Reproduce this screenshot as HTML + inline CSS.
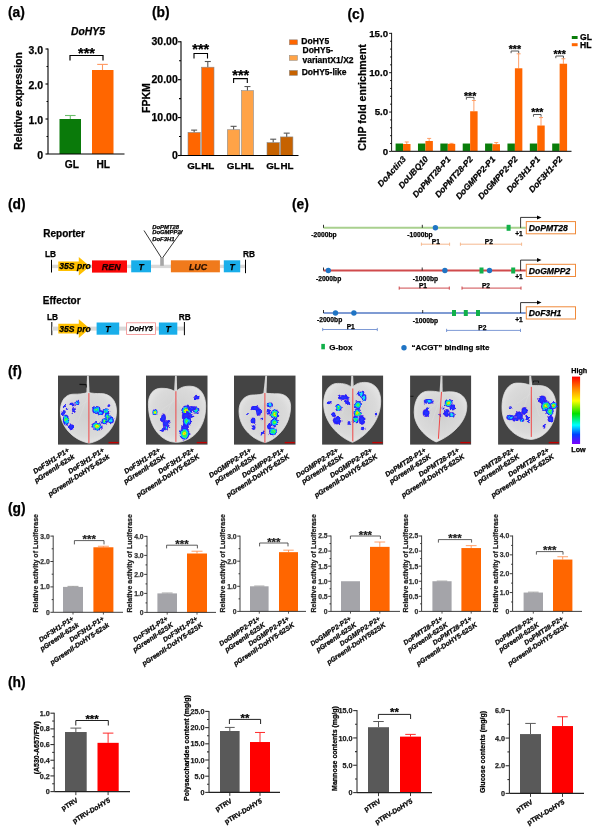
<!DOCTYPE html>
<html><head><meta charset="utf-8"><title>Figure</title>
<style>
html,body{margin:0;padding:0;background:#fff;}
body{width:600px;height:830px;overflow:hidden;}
svg{display:block;font-family:'Liberation Sans', sans-serif;filter:blur(0.3px);}
</style></head>
<body>
<svg width="600" height="830" viewBox="0 0 600 830">
<rect x="0" y="0" width="600" height="830" fill="#fff"/>
<text x="8" y="17" font-size="13.8" font-weight="bold" stroke="#000" stroke-width="0.25">(a)</text>
<text x="88" y="35.2" font-size="10.3" font-weight="bold" font-style="italic" text-anchor="middle" stroke="#000" stroke-width="0.25">DoHY5</text>
<rect x="59.5" y="119" width="21.5" height="35" fill="#0a7a0a"/>
<line x1="70.3" y1="119" x2="70.3" y2="115.5" stroke="#6cbf6c" stroke-width="1.1"/>
<line x1="65" y1="115.5" x2="75.6" y2="115.5" stroke="#6cbf6c" stroke-width="1.1"/>
<rect x="92" y="70" width="21.5" height="84" fill="#ff6600"/>
<line x1="102.5" y1="70" x2="102.5" y2="64.4" stroke="#ff9860" stroke-width="1.1"/>
<line x1="97.2" y1="64.4" x2="107.8" y2="64.4" stroke="#ff9860" stroke-width="1.1"/>
<line x1="48" y1="48.5" x2="48" y2="154" stroke="#000" stroke-width="1.1"/>
<line x1="45.5" y1="154" x2="48" y2="154" stroke="#000" stroke-width="1.1"/>
<text x="43" y="159" font-size="10.5" font-weight="bold" text-anchor="end" stroke="#000" stroke-width="0.25">0</text>
<line x1="45.5" y1="119" x2="48" y2="119" stroke="#000" stroke-width="1.1"/>
<text x="43" y="124" font-size="10.5" font-weight="bold" text-anchor="end" stroke="#000" stroke-width="0.25">1.0</text>
<line x1="45.5" y1="84" x2="48" y2="84" stroke="#000" stroke-width="1.1"/>
<text x="43" y="89" font-size="10.5" font-weight="bold" text-anchor="end" stroke="#000" stroke-width="0.25">2.0</text>
<line x1="45.5" y1="49" x2="48" y2="49" stroke="#000" stroke-width="1.1"/>
<text x="43" y="54" font-size="10.5" font-weight="bold" text-anchor="end" stroke="#000" stroke-width="0.25">3.0</text>
<line x1="46.5" y1="136.5" x2="48" y2="136.5" stroke="#000" stroke-width="1.1"/>
<line x1="46.5" y1="101.5" x2="48" y2="101.5" stroke="#000" stroke-width="1.1"/>
<line x1="46.5" y1="66.5" x2="48" y2="66.5" stroke="#000" stroke-width="1.1"/>
<line x1="48" y1="154" x2="124.5" y2="154" stroke="#000" stroke-width="1.1"/>
<polyline points="70,60.5 70,55.5 103,55.5 103,60.5" fill="none" stroke="#000" stroke-width="1.2"/>
<text x="86.5" y="58.4" font-size="14.5" font-weight="bold" text-anchor="middle" stroke="#000" stroke-width="0.25">***</text>
<text x="71.8" y="167.6" font-size="10.2" font-weight="bold" text-anchor="middle" stroke="#000" stroke-width="0.25">GL</text>
<text x="103.3" y="167.6" font-size="10.2" font-weight="bold" text-anchor="middle" stroke="#000" stroke-width="0.25">HL</text>
<text x="22.2" y="101" font-size="10.4" font-weight="bold" text-anchor="middle" stroke="#000" stroke-width="0.25" transform="rotate(-90 22.2 101)">Relative expression</text>
<text x="152" y="17" font-size="13.8" font-weight="bold" stroke="#000" stroke-width="0.25">(b)</text>
<line x1="194.15" y1="132.38" x2="194.15" y2="130.11" stroke="#555" stroke-width="1.1"/>
<line x1="191.15" y1="130.11" x2="197.15" y2="130.11" stroke="#555" stroke-width="1.1"/>
<rect x="188" y="132.38" width="12.3" height="23.12" fill="#ff6600" stroke="#8a8a8a" stroke-width="0.6"/>
<line x1="207.8" y1="67.19" x2="207.8" y2="61.51" stroke="#555" stroke-width="1.1"/>
<line x1="204.8" y1="61.51" x2="210.8" y2="61.51" stroke="#555" stroke-width="1.1"/>
<rect x="201.6" y="67.19" width="12.4" height="88.31" fill="#ff6600" stroke="#8a8a8a" stroke-width="0.6"/>
<line x1="233.6" y1="129.73" x2="233.6" y2="126.32" stroke="#555" stroke-width="1.1"/>
<line x1="230.6" y1="126.32" x2="236.6" y2="126.32" stroke="#555" stroke-width="1.1"/>
<rect x="227.4" y="129.73" width="12.4" height="25.77" fill="#ffa347" stroke="#8a8a8a" stroke-width="0.6"/>
<line x1="247.45" y1="90.69" x2="247.45" y2="86.52" stroke="#555" stroke-width="1.1"/>
<line x1="244.45" y1="86.52" x2="250.45" y2="86.52" stroke="#555" stroke-width="1.1"/>
<rect x="241.5" y="90.69" width="11.9" height="64.81" fill="#ffa347" stroke="#8a8a8a" stroke-width="0.6"/>
<line x1="273.2" y1="142.61" x2="273.2" y2="139.2" stroke="#555" stroke-width="1.1"/>
<line x1="270.2" y1="139.2" x2="276.2" y2="139.2" stroke="#555" stroke-width="1.1"/>
<rect x="267" y="142.61" width="12.4" height="12.89" fill="#c66200" stroke="#8a8a8a" stroke-width="0.6"/>
<line x1="286.7" y1="136.93" x2="286.7" y2="133.14" stroke="#555" stroke-width="1.1"/>
<line x1="283.7" y1="133.14" x2="289.7" y2="133.14" stroke="#555" stroke-width="1.1"/>
<rect x="280.5" y="136.93" width="12.4" height="18.57" fill="#c66200" stroke="#8a8a8a" stroke-width="0.6"/>
<line x1="181" y1="41.3" x2="181" y2="155.5" stroke="#000" stroke-width="1.1"/>
<line x1="178" y1="155.5" x2="181" y2="155.5" stroke="#000" stroke-width="1.1"/>
<text x="177.8" y="159" font-size="10.5" font-weight="bold" text-anchor="end" stroke="#000" stroke-width="0.25">0</text>
<line x1="178" y1="117.6" x2="181" y2="117.6" stroke="#000" stroke-width="1.1"/>
<text x="177.8" y="121.1" font-size="10.5" font-weight="bold" text-anchor="end" stroke="#000" stroke-width="0.25">10.00</text>
<line x1="178" y1="79.7" x2="181" y2="79.7" stroke="#000" stroke-width="1.1"/>
<text x="177.8" y="83.2" font-size="10.5" font-weight="bold" text-anchor="end" stroke="#000" stroke-width="0.25">20.00</text>
<line x1="178" y1="41.8" x2="181" y2="41.8" stroke="#000" stroke-width="1.1"/>
<text x="177.8" y="45.3" font-size="10.5" font-weight="bold" text-anchor="end" stroke="#000" stroke-width="0.25">30.00</text>
<line x1="179" y1="136.55" x2="181" y2="136.55" stroke="#000" stroke-width="1.1"/>
<line x1="179" y1="98.65" x2="181" y2="98.65" stroke="#000" stroke-width="1.1"/>
<line x1="179" y1="60.75" x2="181" y2="60.75" stroke="#000" stroke-width="1.1"/>
<line x1="181" y1="155.5" x2="298.5" y2="155.5" stroke="#000" stroke-width="1.1"/>
<polyline points="194,58.5 194,53.5 207.5,53.5 207.5,58.5" fill="none" stroke="#000" stroke-width="1.1"/>
<text x="200.8" y="53.6" font-size="14.5" font-weight="bold" text-anchor="middle" stroke="#000" stroke-width="0.25">***</text>
<polyline points="233.6,83 233.6,78.6 247.3,78.6 247.3,83" fill="none" stroke="#000" stroke-width="1.1"/>
<text x="240.8" y="80.3" font-size="14.5" font-weight="bold" text-anchor="middle" stroke="#000" stroke-width="0.25">***</text>
<text x="194" y="168.5" font-size="9.8" font-weight="bold" text-anchor="middle" stroke="#000" stroke-width="0.25">GL</text>
<text x="207.7" y="168.5" font-size="9.8" font-weight="bold" text-anchor="middle" stroke="#000" stroke-width="0.25">HL</text>
<text x="233.6" y="168.5" font-size="9.8" font-weight="bold" text-anchor="middle" stroke="#000" stroke-width="0.25">GL</text>
<text x="247.4" y="168.5" font-size="9.8" font-weight="bold" text-anchor="middle" stroke="#000" stroke-width="0.25">HL</text>
<text x="273" y="168.5" font-size="9.8" font-weight="bold" text-anchor="middle" stroke="#000" stroke-width="0.25">GL</text>
<text x="287" y="168.5" font-size="9.8" font-weight="bold" text-anchor="middle" stroke="#000" stroke-width="0.25">HL</text>
<text x="150.3" y="98" font-size="10.5" font-weight="bold" text-anchor="middle" stroke="#000" stroke-width="0.25" transform="rotate(-90 150.3 98)">FPKM</text>
<rect x="289.3" y="39.8" width="8.2" height="5" fill="#ff6600" stroke="#8a8a8a" stroke-width="0.5"/>
<rect x="289.3" y="55.4" width="8.2" height="5" fill="#ffa347" stroke="#8a8a8a" stroke-width="0.5"/>
<rect x="289.3" y="70.4" width="8.2" height="5" fill="#c66200" stroke="#8a8a8a" stroke-width="0.5"/>
<text x="301.3" y="43.5" font-size="8.5" font-weight="bold" stroke="#000" stroke-width="0.25">DoHY5</text>
<text x="302.5" y="52.6" font-size="8.5" font-weight="bold" stroke="#000" stroke-width="0.25">DoHY5-</text>
<text x="302.5" y="62.6" font-size="8.5" font-weight="bold" stroke="#000" stroke-width="0.25">variantX1/X2</text>
<text x="301.7" y="74.6" font-size="8.5" font-weight="bold" stroke="#000" stroke-width="0.25">DoHY5-like</text>
<text x="347.5" y="18.5" font-size="13.8" font-weight="bold" stroke="#000" stroke-width="0.25">(c)</text>
<rect x="395.6" y="143.53" width="7.45" height="7.87" fill="#0a7d0a"/>
<line x1="406.78" y1="144" x2="406.78" y2="141.96" stroke="#ff8844" stroke-width="0.8"/>
<line x1="404.78" y1="141.96" x2="408.78" y2="141.96" stroke="#ff8844" stroke-width="0.8"/>
<rect x="403.05" y="144" width="7.45" height="7.4" fill="#ff6600"/>
<text x="406.35" y="159.4" font-size="8.5" font-weight="bold" font-style="italic" text-anchor="end" stroke="#000" stroke-width="0.25" transform="rotate(-48 406.35 159.4)">DoActin3</text>
<rect x="417.97" y="143.53" width="7.45" height="7.87" fill="#0a7d0a"/>
<line x1="429.15" y1="141.01" x2="429.15" y2="138.41" stroke="#ff8844" stroke-width="0.8"/>
<line x1="427.15" y1="138.41" x2="431.15" y2="138.41" stroke="#ff8844" stroke-width="0.8"/>
<rect x="425.42" y="141.01" width="7.45" height="10.39" fill="#ff6600"/>
<text x="428.72" y="159.4" font-size="8.5" font-weight="bold" font-style="italic" text-anchor="end" stroke="#000" stroke-width="0.25" transform="rotate(-48 428.72 159.4)">DoUBQ10</text>
<rect x="440.34" y="143.53" width="7.45" height="7.87" fill="#0a7d0a"/>
<line x1="451.52" y1="143.84" x2="451.52" y2="143.37" stroke="#ff8844" stroke-width="0.8"/>
<line x1="449.52" y1="143.37" x2="453.52" y2="143.37" stroke="#ff8844" stroke-width="0.8"/>
<rect x="447.79" y="143.84" width="7.45" height="7.56" fill="#ff6600"/>
<text x="451.09" y="159.4" font-size="8.5" font-weight="bold" font-style="italic" text-anchor="end" stroke="#000" stroke-width="0.25" transform="rotate(-48 451.09 159.4)">DoPMT28-P1</text>
<rect x="462.71" y="143.53" width="7.45" height="7.87" fill="#0a7d0a"/>
<line x1="473.89" y1="111.26" x2="473.89" y2="100.48" stroke="#ff8844" stroke-width="0.8"/>
<line x1="471.89" y1="100.48" x2="475.89" y2="100.48" stroke="#ff8844" stroke-width="0.8"/>
<rect x="470.16" y="111.26" width="7.45" height="40.14" fill="#ff6600"/>
<text x="473.46" y="159.4" font-size="8.5" font-weight="bold" font-style="italic" text-anchor="end" stroke="#000" stroke-width="0.25" transform="rotate(-48 473.46 159.4)">DoPMT28-P2</text>
<rect x="485.08" y="143.53" width="7.45" height="7.87" fill="#0a7d0a"/>
<line x1="496.26" y1="144.16" x2="496.26" y2="142.59" stroke="#ff8844" stroke-width="0.8"/>
<line x1="494.26" y1="142.59" x2="498.26" y2="142.59" stroke="#ff8844" stroke-width="0.8"/>
<rect x="492.53" y="144.16" width="7.45" height="7.24" fill="#ff6600"/>
<text x="495.83" y="159.4" font-size="8.5" font-weight="bold" font-style="italic" text-anchor="end" stroke="#000" stroke-width="0.25" transform="rotate(-48 495.83 159.4)">DoGMPP2-P1</text>
<rect x="507.45" y="143.53" width="7.45" height="7.87" fill="#0a7d0a"/>
<line x1="518.63" y1="68.29" x2="518.63" y2="53.81" stroke="#ff8844" stroke-width="0.8"/>
<line x1="516.63" y1="53.81" x2="520.63" y2="53.81" stroke="#ff8844" stroke-width="0.8"/>
<rect x="514.9" y="68.29" width="7.45" height="83.11" fill="#ff6600"/>
<text x="518.2" y="159.4" font-size="8.5" font-weight="bold" font-style="italic" text-anchor="end" stroke="#000" stroke-width="0.25" transform="rotate(-48 518.2 159.4)">DoGMPP2-P2</text>
<rect x="529.82" y="143.53" width="7.45" height="7.87" fill="#0a7d0a"/>
<line x1="541" y1="125.51" x2="541" y2="117.56" stroke="#ff8844" stroke-width="0.8"/>
<line x1="539" y1="117.56" x2="543" y2="117.56" stroke="#ff8844" stroke-width="0.8"/>
<rect x="537.27" y="125.51" width="7.45" height="25.89" fill="#ff6600"/>
<text x="540.57" y="159.4" font-size="8.5" font-weight="bold" font-style="italic" text-anchor="end" stroke="#000" stroke-width="0.25" transform="rotate(-48 540.57 159.4)">DoF3H1-P1</text>
<rect x="552.19" y="143.53" width="7.45" height="7.87" fill="#0a7d0a"/>
<line x1="563.37" y1="63.73" x2="563.37" y2="58.77" stroke="#ff8844" stroke-width="0.8"/>
<line x1="561.37" y1="58.77" x2="565.37" y2="58.77" stroke="#ff8844" stroke-width="0.8"/>
<rect x="559.64" y="63.73" width="7.45" height="87.67" fill="#ff6600"/>
<text x="562.94" y="159.4" font-size="8.5" font-weight="bold" font-style="italic" text-anchor="end" stroke="#000" stroke-width="0.25" transform="rotate(-48 562.94 159.4)">DoF3H1-P2</text>
<line x1="391.6" y1="32.85" x2="391.6" y2="151.4" stroke="#000" stroke-width="0.9"/>
<line x1="389.1" y1="151.4" x2="391.6" y2="151.4" stroke="#000" stroke-width="0.9"/>
<text x="388.1" y="154.6" font-size="9.7" font-weight="bold" text-anchor="end" stroke="#000" stroke-width="0.25">0</text>
<line x1="389.1" y1="112.05" x2="391.6" y2="112.05" stroke="#000" stroke-width="0.9"/>
<text x="388.1" y="115.25" font-size="9.7" font-weight="bold" text-anchor="end" stroke="#000" stroke-width="0.25">5.0</text>
<line x1="389.1" y1="72.7" x2="391.6" y2="72.7" stroke="#000" stroke-width="0.9"/>
<text x="388.1" y="75.9" font-size="9.7" font-weight="bold" text-anchor="end" stroke="#000" stroke-width="0.25">10.0</text>
<line x1="389.1" y1="33.35" x2="391.6" y2="33.35" stroke="#000" stroke-width="0.9"/>
<text x="388.1" y="36.55" font-size="9.7" font-weight="bold" text-anchor="end" stroke="#000" stroke-width="0.25">15.0</text>
<line x1="390.1" y1="143.53" x2="391.6" y2="143.53" stroke="#000" stroke-width="0.9"/>
<line x1="390.1" y1="135.66" x2="391.6" y2="135.66" stroke="#000" stroke-width="0.9"/>
<line x1="390.1" y1="127.79" x2="391.6" y2="127.79" stroke="#000" stroke-width="0.9"/>
<line x1="390.1" y1="119.92" x2="391.6" y2="119.92" stroke="#000" stroke-width="0.9"/>
<line x1="390.1" y1="104.18" x2="391.6" y2="104.18" stroke="#000" stroke-width="0.9"/>
<line x1="390.1" y1="96.31" x2="391.6" y2="96.31" stroke="#000" stroke-width="0.9"/>
<line x1="390.1" y1="88.44" x2="391.6" y2="88.44" stroke="#000" stroke-width="0.9"/>
<line x1="390.1" y1="80.57" x2="391.6" y2="80.57" stroke="#000" stroke-width="0.9"/>
<line x1="390.1" y1="64.83" x2="391.6" y2="64.83" stroke="#000" stroke-width="0.9"/>
<line x1="390.1" y1="56.96" x2="391.6" y2="56.96" stroke="#000" stroke-width="0.9"/>
<line x1="390.1" y1="49.09" x2="391.6" y2="49.09" stroke="#000" stroke-width="0.9"/>
<line x1="390.1" y1="41.22" x2="391.6" y2="41.22" stroke="#000" stroke-width="0.9"/>
<line x1="391.6" y1="151.4" x2="571.5" y2="151.4" stroke="#333" stroke-width="1.2"/>
<polyline points="466.36,99.6 466.36,97.4 473.96,97.4 473.96,99.6" fill="none" stroke="#444" stroke-width="0.9"/>
<text x="470.16" y="99.7" font-size="10.5" font-weight="bold" text-anchor="middle" stroke="#000" stroke-width="0.25">***</text>
<polyline points="511.1,53.2 511.1,51 518.7,51 518.7,53.2" fill="none" stroke="#444" stroke-width="0.9"/>
<text x="514.9" y="52.7" font-size="10.5" font-weight="bold" text-anchor="middle" stroke="#000" stroke-width="0.25">***</text>
<polyline points="533.47,116.7 533.47,114.5 541.07,114.5 541.07,116.7" fill="none" stroke="#444" stroke-width="0.9"/>
<text x="537.27" y="116.2" font-size="10.5" font-weight="bold" text-anchor="middle" stroke="#000" stroke-width="0.25">***</text>
<polyline points="555.84,58.2 555.84,56 563.44,56 563.44,58.2" fill="none" stroke="#444" stroke-width="0.9"/>
<text x="559.64" y="57.7" font-size="10.5" font-weight="bold" text-anchor="middle" stroke="#000" stroke-width="0.25">***</text>
<text x="366.2" y="97.5" font-size="10.6" font-weight="bold" text-anchor="middle" stroke="#000" stroke-width="0.25" transform="rotate(-90 366.2 97.5)">ChIP fold enrichment</text>
<rect x="571.8" y="36" width="5.8" height="3" fill="#0a7d0a"/>
<rect x="571.8" y="43.2" width="5.8" height="3" fill="#ff6600"/>
<text x="580" y="40.2" font-size="8.6" font-weight="bold" stroke="#000" stroke-width="0.25">GL</text>
<text x="580" y="48.3" font-size="8.6" font-weight="bold" stroke="#000" stroke-width="0.25">HL</text>
<text x="8" y="209.3" font-size="13.8" font-weight="bold" stroke="#000" stroke-width="0.25">(d)</text>
<text x="43.3" y="236.7" font-size="10" font-weight="bold" stroke="#000" stroke-width="0.25">Reporter</text>
<text x="45" y="257.3" font-size="8.3" font-weight="bold" stroke="#000" stroke-width="0.25">LB</text>
<line x1="51.5" y1="259.8" x2="51.5" y2="272.5" stroke="#000" stroke-width="1"/>
<rect x="52" y="264.7" width="193" height="3.4" fill="#d9d9d9"/>
<polygon points="58.3,261.5 78.8,261.5 78.8,257 89.8,266.3 78.8,275.6 78.8,271.1 58.3,271.1" fill="#ffc000"/>
<text x="59.3" y="269.3" font-size="8.6" font-weight="bold" font-style="italic" stroke="#000" stroke-width="0.25">35S pro</text>
<rect x="92" y="260.4" width="35" height="12.2" fill="#fb0808"/>
<text x="111.2" y="270.2" font-size="9" font-weight="bold" font-style="italic" text-anchor="middle" fill="#1a0000" stroke="#1a0000" stroke-width="0.25">REN</text>
<rect x="131.2" y="260.3" width="19.8" height="12" fill="#19aeea"/>
<text x="141.1" y="269.5" font-size="8.6" font-weight="bold" font-style="italic" text-anchor="middle" stroke="#000" stroke-width="0.25">T</text>
<rect x="160.2" y="257.3" width="3.6" height="8.5" fill="#a6a6a6"/>
<line x1="144" y1="230.5" x2="161.2" y2="257.5" stroke="#111" stroke-width="0.85"/>
<line x1="182" y1="230.5" x2="162.8" y2="257.5" stroke="#111" stroke-width="0.85"/>
<text x="152.2" y="228.9" font-size="5.9" font-weight="bold" font-style="italic" stroke="#000" stroke-width="0.25">DoPMT28</text>
<text x="152.2" y="234.3" font-size="5.9" font-weight="bold" font-style="italic" stroke="#000" stroke-width="0.25">DoGMPP2/</text>
<text x="152.2" y="241.4" font-size="5.9" font-weight="bold" font-style="italic" stroke="#000" stroke-width="0.25">DoF3H1</text>
<rect x="170.9" y="260.3" width="49" height="12" fill="#f07a1c"/>
<text x="198" y="269.8" font-size="8.8" font-weight="bold" font-style="italic" text-anchor="middle" fill="#2a1000" stroke="#2a1000" stroke-width="0.25">LUC</text>
<rect x="223.8" y="260.3" width="16.4" height="12" fill="#19aeea"/>
<text x="232" y="269.5" font-size="8.6" font-weight="bold" font-style="italic" text-anchor="middle" stroke="#000" stroke-width="0.25">T</text>
<line x1="245.5" y1="259.7" x2="245.5" y2="273.2" stroke="#000" stroke-width="1"/>
<text x="243" y="256.8" font-size="8.3" font-weight="bold" stroke="#000" stroke-width="0.25">RB</text>
<text x="42.8" y="304" font-size="10" font-weight="bold" stroke="#000" stroke-width="0.25">Effector</text>
<text x="47" y="319.8" font-size="8.3" font-weight="bold" stroke="#000" stroke-width="0.25">LB</text>
<line x1="51.8" y1="322" x2="51.8" y2="335.2" stroke="#000" stroke-width="1"/>
<rect x="52" y="326.6" width="132" height="4" fill="#d9d9d9"/>
<polygon points="58.3,323.8 78.8,323.8 78.8,319.3 89.8,328.6 78.8,337.9 78.8,333.4 58.3,333.4" fill="#ffc000"/>
<text x="59.3" y="331.6" font-size="8.6" font-weight="bold" font-style="italic" stroke="#000" stroke-width="0.25">35S pro</text>
<rect x="96.6" y="322.5" width="22.6" height="12.2" fill="#19aeea"/>
<text x="107.9" y="331.8" font-size="8.6" font-weight="bold" font-style="italic" text-anchor="middle" stroke="#000" stroke-width="0.25">T</text>
<rect x="126.6" y="322.8" width="28.8" height="11.6" fill="#fff" stroke="#f08a8a" stroke-width="0.8"/>
<text x="141" y="331.4" font-size="7.2" font-weight="bold" font-style="italic" text-anchor="middle" stroke="#000" stroke-width="0.25">DoHY5</text>
<rect x="158.9" y="322.5" width="18.4" height="12.2" fill="#19aeea"/>
<text x="168.1" y="331.8" font-size="8.6" font-weight="bold" font-style="italic" text-anchor="middle" stroke="#000" stroke-width="0.25">T</text>
<line x1="184.4" y1="322" x2="184.4" y2="335.2" stroke="#000" stroke-width="1"/>
<text x="178.7" y="319.8" font-size="8.3" font-weight="bold" stroke="#000" stroke-width="0.25">RB</text>
<text x="292" y="208.8" font-size="13.8" font-weight="bold" stroke="#000" stroke-width="0.25">(e)</text>
<line x1="323.5" y1="227.8" x2="525.8" y2="227.8" stroke="#a9d08e" stroke-width="2"/>
<line x1="323.5" y1="224.8" x2="323.5" y2="227.8" stroke="#000" stroke-width="0.8"/>
<line x1="422.3" y1="224.8" x2="422.3" y2="227.8" stroke="#000" stroke-width="0.8"/>
<text x="324" y="236.5" font-size="6.7" font-weight="bold" text-anchor="middle" stroke="#000" stroke-width="0.25">-2000bp</text>
<text x="420" y="236.5" font-size="6.7" font-weight="bold" text-anchor="middle" stroke="#000" stroke-width="0.25">-1000bp</text>
<circle cx="435.4" cy="227.8" r="2.7" fill="#1f74c4"/>
<rect x="506.6" y="224.8" width="4" height="6" fill="#11b04a"/>
<line x1="520.6" y1="227.8" x2="520.6" y2="217.4" stroke="#000" stroke-width="0.8"/>
<line x1="520.6" y1="217.4" x2="538" y2="217.4" stroke="#000" stroke-width="0.8"/>
<polygon points="537,215.4 541.5,217.4 537,219.4" fill="#000"/>
<text x="519" y="236.4" font-size="6.6" font-weight="bold" text-anchor="middle" stroke="#000" stroke-width="0.25">+1</text>
<rect x="526.3" y="221.6" width="49.2" height="12.2" fill="#fff" stroke="#f08a3a" stroke-width="1"/>
<text x="528.7" y="231" font-size="8.6" font-weight="bold" font-style="italic" stroke="#000" stroke-width="0.25">DoPMT28</text>
<line x1="421.4" y1="244.2" x2="449.6" y2="244.2" stroke="#f4b183" stroke-width="0.9"/>
<line x1="421.4" y1="242.6" x2="421.4" y2="245.8" stroke="#f4b183" stroke-width="0.9"/>
<line x1="449.6" y1="242.6" x2="449.6" y2="245.8" stroke="#f4b183" stroke-width="0.9"/>
<text x="435.8" y="243.5" font-size="6.6" font-weight="bold" text-anchor="middle" stroke="#000" stroke-width="0.25">P1</text>
<line x1="460.4" y1="244.2" x2="521.6" y2="244.2" stroke="#f4b183" stroke-width="0.9"/>
<line x1="460.4" y1="242.6" x2="460.4" y2="245.8" stroke="#f4b183" stroke-width="0.9"/>
<line x1="521.6" y1="242.6" x2="521.6" y2="245.8" stroke="#f4b183" stroke-width="0.9"/>
<text x="488.8" y="243.5" font-size="6.6" font-weight="bold" text-anchor="middle" stroke="#000" stroke-width="0.25">P2</text>
<line x1="323.5" y1="270.5" x2="525.8" y2="270.5" stroke="#d04a4c" stroke-width="2"/>
<line x1="323.5" y1="267.5" x2="323.5" y2="270.5" stroke="#000" stroke-width="0.8"/>
<line x1="422.2" y1="267.5" x2="422.2" y2="270.5" stroke="#000" stroke-width="0.8"/>
<text x="328.6" y="280.6" font-size="6.7" font-weight="bold" text-anchor="middle" stroke="#000" stroke-width="0.25">-2000bp</text>
<text x="425.5" y="280.6" font-size="6.7" font-weight="bold" text-anchor="middle" stroke="#000" stroke-width="0.25">-1000bp</text>
<circle cx="328.3" cy="270.5" r="2.7" fill="#1f74c4"/>
<circle cx="444.9" cy="270.5" r="2.7" fill="#1f74c4"/>
<circle cx="489.5" cy="270.5" r="2.7" fill="#1f74c4"/>
<rect x="479.5" y="267.5" width="4" height="6" fill="#11b04a"/>
<rect x="511.2" y="267.5" width="4" height="6" fill="#11b04a"/>
<line x1="520.6" y1="270.5" x2="520.6" y2="260.1" stroke="#000" stroke-width="0.8"/>
<line x1="520.6" y1="260.1" x2="538" y2="260.1" stroke="#000" stroke-width="0.8"/>
<polygon points="537,258.1 541.5,260.1 537,262.1" fill="#000"/>
<text x="519" y="279.1" font-size="6.6" font-weight="bold" text-anchor="middle" stroke="#000" stroke-width="0.25">+1</text>
<rect x="526.3" y="264.3" width="49.2" height="12.2" fill="#fff" stroke="#f08a3a" stroke-width="1"/>
<text x="528.7" y="273.7" font-size="8.6" font-weight="bold" font-style="italic" stroke="#000" stroke-width="0.25">DoGMPP2</text>
<line x1="399.2" y1="288.1" x2="449.3" y2="288.1" stroke="#c8373a" stroke-width="0.9"/>
<line x1="399.2" y1="286.5" x2="399.2" y2="289.7" stroke="#c8373a" stroke-width="0.9"/>
<line x1="449.3" y1="286.5" x2="449.3" y2="289.7" stroke="#c8373a" stroke-width="0.9"/>
<text x="423" y="287.6" font-size="6.6" font-weight="bold" text-anchor="middle" stroke="#000" stroke-width="0.25">P1</text>
<line x1="462" y1="288.1" x2="521" y2="288.1" stroke="#c8373a" stroke-width="0.9"/>
<line x1="462" y1="286.5" x2="462" y2="289.7" stroke="#c8373a" stroke-width="0.9"/>
<line x1="521" y1="286.5" x2="521" y2="289.7" stroke="#c8373a" stroke-width="0.9"/>
<text x="486" y="287.6" font-size="6.6" font-weight="bold" text-anchor="middle" stroke="#000" stroke-width="0.25">P2</text>
<line x1="323.5" y1="313" x2="525.8" y2="313" stroke="#7f9bd3" stroke-width="2"/>
<line x1="323.5" y1="310" x2="323.5" y2="313" stroke="#000" stroke-width="0.8"/>
<line x1="422.7" y1="310" x2="422.7" y2="313" stroke="#000" stroke-width="0.8"/>
<text x="329.6" y="322" font-size="6.7" font-weight="bold" text-anchor="middle" stroke="#000" stroke-width="0.25">-2000bp</text>
<text x="425.5" y="322.6" font-size="6.7" font-weight="bold" text-anchor="middle" stroke="#000" stroke-width="0.25">-1000bp</text>
<circle cx="335.5" cy="313" r="2.7" fill="#1f74c4"/>
<circle cx="353.9" cy="313" r="2.7" fill="#1f74c4"/>
<rect x="452" y="310" width="4" height="6" fill="#11b04a"/>
<rect x="463.8" y="310" width="4" height="6" fill="#11b04a"/>
<rect x="476" y="310" width="4" height="6" fill="#11b04a"/>
<line x1="520.6" y1="313" x2="520.6" y2="302.6" stroke="#000" stroke-width="0.8"/>
<line x1="520.6" y1="302.6" x2="538" y2="302.6" stroke="#000" stroke-width="0.8"/>
<polygon points="537,300.6 541.5,302.6 537,304.6" fill="#000"/>
<text x="519" y="321.6" font-size="6.6" font-weight="bold" text-anchor="middle" stroke="#000" stroke-width="0.25">+1</text>
<rect x="526.3" y="306.8" width="49.2" height="12.2" fill="#fff" stroke="#f08a3a" stroke-width="1"/>
<text x="528.7" y="316.2" font-size="8.6" font-weight="bold" font-style="italic" stroke="#000" stroke-width="0.25">DoF3H1</text>
<line x1="322.7" y1="329.5" x2="377.3" y2="329.5" stroke="#6f8fd0" stroke-width="0.9"/>
<line x1="322.7" y1="327.9" x2="322.7" y2="331.1" stroke="#6f8fd0" stroke-width="0.9"/>
<line x1="377.3" y1="327.9" x2="377.3" y2="331.1" stroke="#6f8fd0" stroke-width="0.9"/>
<text x="350.7" y="329.2" font-size="6.6" font-weight="bold" text-anchor="middle" stroke="#000" stroke-width="0.25">P1</text>
<line x1="446.6" y1="330.4" x2="520.5" y2="330.4" stroke="#6f8fd0" stroke-width="0.9"/>
<line x1="446.6" y1="328.8" x2="446.6" y2="332" stroke="#6f8fd0" stroke-width="0.9"/>
<line x1="520.5" y1="328.8" x2="520.5" y2="332" stroke="#6f8fd0" stroke-width="0.9"/>
<text x="482.4" y="330" font-size="6.6" font-weight="bold" text-anchor="middle" stroke="#000" stroke-width="0.25">P2</text>
<rect x="321.3" y="343.9" width="3.6" height="5.4" fill="#11b04a"/>
<text x="329.3" y="350.1" font-size="8" font-weight="bold" stroke="#000" stroke-width="0.25">G-box</text>
<circle cx="404" cy="347.8" r="2.7" fill="#1f74c4"/>
<text x="411.6" y="350.1" font-size="8" font-weight="bold" stroke="#000" stroke-width="0.25">“ACGT” binding site</text>
<defs>
<radialGradient id="lf" cx="50%" cy="45%" r="60%"><stop offset="0" stop-color="#cfcfcf"/><stop offset="0.7" stop-color="#dadada"/><stop offset="1" stop-color="#e8e8e8"/></radialGradient>
<radialGradient id="bB"><stop offset="0" stop-color="#2a3cff"/><stop offset="0.75" stop-color="#2020ff"/><stop offset="1" stop-color="#5a20e0" stop-opacity="0.85"/></radialGradient>
<radialGradient id="bC"><stop offset="0" stop-color="#30ffd0"/><stop offset="0.35" stop-color="#10c8ff"/><stop offset="0.7" stop-color="#1830ff"/><stop offset="1" stop-color="#4a1ae8" stop-opacity="0.9"/></radialGradient>
<radialGradient id="bG"><stop offset="0" stop-color="#9cff20"/><stop offset="0.3" stop-color="#20f060"/><stop offset="0.55" stop-color="#00d0ff"/><stop offset="0.8" stop-color="#1a28ff"/><stop offset="1" stop-color="#4a1ae8" stop-opacity="0.9"/></radialGradient>
<radialGradient id="bY"><stop offset="0" stop-color="#ff9a00"/><stop offset="0.2" stop-color="#ffee00"/><stop offset="0.45" stop-color="#40f040"/><stop offset="0.68" stop-color="#00d0ff"/><stop offset="0.86" stop-color="#1a28ff"/><stop offset="1" stop-color="#4a1ae8" stop-opacity="0.9"/></radialGradient>
<filter id="wob" x="-10%" y="-10%" width="120%" height="120%"><feTurbulence type="fractalNoise" baseFrequency="0.3" numOctaves="2" seed="7" result="n"/><feDisplacementMap in="SourceGraphic" in2="n" scale="3.5" xChannelSelector="R" yChannelSelector="G" result="d"/><feGaussianBlur in="d" stdDeviation="0.35"/></filter>
<linearGradient id="cbar" x1="0" y1="0" x2="0" y2="1">
<stop offset="0" stop-color="#ff0000"/><stop offset="0.17" stop-color="#ff8000"/><stop offset="0.36" stop-color="#ffff00"/>
<stop offset="0.55" stop-color="#00e000"/><stop offset="0.72" stop-color="#00ffff"/><stop offset="0.86" stop-color="#0040ff"/><stop offset="1" stop-color="#8000ff"/></linearGradient>
</defs>
<text x="8" y="376.4" font-size="13.8" font-weight="bold" stroke="#000" stroke-width="0.25">(f)</text>
<rect x="58" y="375.6" width="61.3" height="69" fill="#444444"/>
<path d="M87,375.6 L88.8,375.6 L89.6,393.5 L86.4,393.5 Z" fill="#d4d4d4"/>
<path d="M88,392.5 C82.82,393.94 79.12,394.2 73.2,394.2 C65.52,394.2 60.4,400.92 60.4,411 C60.4,430.52 78.26,441.56 89.3,443.1 C99.69,441.56 116.5,430.52 116.5,411 C116.5,400.56 110.22,393.6 100.8,393.6 C95.68,393.6 92.48,393.44 88,392.5Z" fill="url(#lf)" stroke="#e0e0e0" stroke-width="0.8"/>
<path d="M88,395.5 L78.2,421 M88,395.5 L98.25,421 M88,400.5 L74,410.5" stroke="#dedede" stroke-width="0.6" fill="none" opacity="0.8"/>
<g filter="url(#wob)">
<ellipse cx="64.5" cy="406.2" rx="1.6" ry="1.1" fill="url(#bB)"/>
<ellipse cx="72" cy="404.4" rx="2.6" ry="2" fill="url(#bB)"/>
<ellipse cx="77" cy="402.8" rx="2.6" ry="2.3" fill="url(#bC)"/>
<ellipse cx="73.9" cy="410" rx="2" ry="3" fill="url(#bB)"/>
<ellipse cx="67" cy="408.8" rx="1.3" ry="1.1" fill="url(#bB)"/>
<ellipse cx="63.9" cy="413.1" rx="2" ry="2" fill="url(#bB)"/>
<ellipse cx="66" cy="420" rx="3.2" ry="5.5" fill="url(#bG)"/>
<ellipse cx="71.4" cy="426.9" rx="3.2" ry="2.6" fill="url(#bB)"/>
<ellipse cx="96.4" cy="410" rx="4.2" ry="4" fill="url(#bG)"/>
<ellipse cx="100.5" cy="413.1" rx="3" ry="2.5" fill="url(#bC)"/>
<ellipse cx="105.8" cy="411.3" rx="3.4" ry="3" fill="url(#bG)"/>
<ellipse cx="107.6" cy="417.5" rx="3.2" ry="5" fill="url(#bG)"/>
<ellipse cx="111" cy="420.6" rx="3" ry="3" fill="url(#bC)"/>
<ellipse cx="104.5" cy="421.3" rx="3" ry="3" fill="url(#bG)"/>
<ellipse cx="97" cy="426.3" rx="5.5" ry="4.3" fill="url(#bY)"/>
<ellipse cx="108.9" cy="405.6" rx="1.4" ry="1.3" fill="url(#bB)"/>
</g>
<line x1="88.9" y1="393.1" x2="88.9" y2="443.1" stroke="#f04848" stroke-width="1"/>
<line x1="108.5" y1="442.6" x2="118.7" y2="442.6" stroke="#c00000" stroke-width="1.4"/>
<rect x="146" y="375.6" width="61.5" height="69" fill="#444444"/>
<path d="M175,375.6 L176.8,375.6 L177.2,392.9 L174,392.9 Z" fill="#d4d4d4"/>
<path d="M175.6,391.9 C170.49,388.84 166.84,388.3 161,388.3 C153.44,388.3 148.4,394.5 148.4,403.8 C148.4,429.98 163.69,442.3 176.2,442.3 C189.47,442.3 205.7,430.68 205.7,406 C205.7,394.12 199.42,386.2 190,386.2 C184.24,386.2 180.64,387.06 175.6,391.9Z" fill="url(#lf)" stroke="#e0e0e0" stroke-width="0.8"/>
<path d="M175.6,394.9 L166,413.8 M175.6,394.9 L186.65,416 M175.6,399.9 L161.6,409.9" stroke="#dedede" stroke-width="0.6" fill="none" opacity="0.8"/>
<g filter="url(#wob)">
<ellipse cx="155" cy="412.5" rx="2.6" ry="3.6" fill="url(#bY)"/>
<ellipse cx="163" cy="418" rx="3" ry="4.5" fill="url(#bB)"/>
<ellipse cx="166.2" cy="424" rx="3.5" ry="4" fill="url(#bB)"/>
<ellipse cx="165.6" cy="427.5" rx="2.5" ry="2.5" fill="url(#bC)"/>
<ellipse cx="163" cy="430" rx="2.5" ry="2" fill="url(#bB)"/>
<ellipse cx="196.9" cy="397.2" rx="2.8" ry="2.4" fill="url(#bB)"/>
<ellipse cx="186.3" cy="410.6" rx="5" ry="5" fill="url(#bY)"/>
<ellipse cx="195.6" cy="410" rx="3.8" ry="3.8" fill="url(#bG)"/>
<ellipse cx="186" cy="416" rx="4.2" ry="4" fill="url(#bB)"/>
<ellipse cx="185" cy="428" rx="4" ry="5" fill="url(#bB)"/>
<ellipse cx="191.5" cy="408.5" rx="5" ry="2.4" fill="url(#bB)"/>
<ellipse cx="187" cy="421.3" rx="4.2" ry="5" fill="url(#bG)"/>
<ellipse cx="184.5" cy="433.8" rx="5" ry="6" fill="url(#bY)"/>
<ellipse cx="191" cy="416" rx="2.5" ry="2" fill="url(#bB)"/>
</g>
<line x1="175.9" y1="391.2" x2="175.9" y2="441.9" stroke="#f04848" stroke-width="1"/>
<line x1="196.7" y1="442.6" x2="206.9" y2="442.6" stroke="#c00000" stroke-width="1.4"/>
<rect x="234" y="375.6" width="61.5" height="69" fill="#444444"/>
<path d="M265.3,375.6 L267.1,375.6 L266.5,394.1 L263.3,394.1 Z" fill="#d4d4d4"/>
<path d="M264.9,393.1 C260.74,394.72 257.76,395 253,395 C244.6,395 239,401.48 239,411.2 C239,429.67 255.64,440.62 265.2,442.5 C274.47,440.32 290.6,427.62 290.6,406.2 C290.6,398.76 285.56,393.8 278,393.8 C272.76,393.8 269.49,393.69 264.9,393.1Z" fill="url(#lf)" stroke="#e0e0e0" stroke-width="0.8"/>
<path d="M264.9,396.1 L255.95,421.2 M264.9,396.1 L273.75,416.2 M264.9,401.1 L250.9,411.1" stroke="#dedede" stroke-width="0.6" fill="none" opacity="0.8"/>
<g filter="url(#wob)">
<ellipse cx="254.9" cy="408" rx="4" ry="2.5" fill="url(#bB)"/>
<ellipse cx="258.6" cy="411.9" rx="2.5" ry="4" fill="url(#bB)"/>
<ellipse cx="253" cy="420.6" rx="2.5" ry="3" fill="url(#bB)"/>
<ellipse cx="253.6" cy="427.5" rx="2" ry="2.5" fill="url(#bB)"/>
<ellipse cx="261.8" cy="418.8" rx="1.4" ry="1.4" fill="url(#bB)"/>
<ellipse cx="262.4" cy="433" rx="1.6" ry="1.6" fill="url(#bB)"/>
<ellipse cx="248" cy="413" rx="1" ry="1" fill="url(#bB)"/>
<ellipse cx="269.9" cy="405" rx="3.2" ry="2.5" fill="url(#bC)"/>
<ellipse cx="274.9" cy="414.4" rx="4.4" ry="5" fill="url(#bY)"/>
<ellipse cx="274.3" cy="422.5" rx="4" ry="4" fill="url(#bG)"/>
<ellipse cx="273" cy="431.3" rx="4" ry="4" fill="url(#bG)"/>
<ellipse cx="268.5" cy="412" rx="2" ry="3" fill="url(#bB)"/>
<ellipse cx="269" cy="426.5" rx="2" ry="3" fill="url(#bB)"/>
</g>
<line x1="264.9" y1="393" x2="264.9" y2="442.7" stroke="#f04848" stroke-width="1"/>
<line x1="284.7" y1="442.6" x2="294.9" y2="442.6" stroke="#c00000" stroke-width="1.4"/>
<rect x="322.1" y="375.6" width="61" height="69" fill="#444444"/>
<path d="M351.3,375.6 L353.1,375.6 L353.8,388.5 L350.6,388.5 Z" fill="#d4d4d4"/>
<path d="M352.2,387.5 C347.06,384.01 343.38,383.4 337.5,383.4 C329.22,383.4 323.7,391.56 323.7,403.8 C323.7,425.13 342.97,439.07 352.5,442.3 C361.83,438.83 380.7,423.88 380.7,401 C380.7,389.84 374.42,382.4 365,382.4 C359.88,382.4 356.68,383.16 352.2,387.5Z" fill="url(#lf)" stroke="#e0e0e0" stroke-width="0.8"/>
<path d="M352.2,390.5 L341.95,413.8 M352.2,390.5 L362.45,411 M352.2,395.5 L338.2,405.5" stroke="#dedede" stroke-width="0.6" fill="none" opacity="0.8"/>
<g filter="url(#wob)">
<ellipse cx="329.5" cy="402.6" rx="2" ry="1.7" fill="url(#bB)"/>
<ellipse cx="343" cy="397.5" rx="5.5" ry="2.4" fill="url(#bB)"/>
<ellipse cx="338.5" cy="407.5" rx="3.3" ry="3.6" fill="url(#bG)"/>
<ellipse cx="347.5" cy="402" rx="2.5" ry="3" fill="url(#bB)"/>
<ellipse cx="337" cy="420.5" rx="4.3" ry="4" fill="url(#bB)"/>
<ellipse cx="349" cy="423" rx="1.6" ry="2" fill="url(#bB)"/>
<ellipse cx="333.5" cy="414.5" rx="2" ry="2.5" fill="url(#bB)"/>
<ellipse cx="361" cy="393.5" rx="3.5" ry="3" fill="url(#bC)"/>
<ellipse cx="364" cy="398" rx="2.5" ry="3" fill="url(#bC)"/>
<ellipse cx="358" cy="405" rx="4" ry="4" fill="url(#bG)"/>
<ellipse cx="357.5" cy="413" rx="4" ry="4.5" fill="url(#bY)"/>
<ellipse cx="355.5" cy="420" rx="3" ry="3.5" fill="url(#bG)"/>
<ellipse cx="362" cy="420" rx="3.5" ry="5" fill="url(#bB)"/>
<ellipse cx="363" cy="428.5" rx="2.6" ry="1.8" fill="url(#bB)"/>
<ellipse cx="376" cy="414" rx="1.2" ry="1.5" fill="url(#bB)"/>
</g>
<line x1="352.8" y1="388.5" x2="352.8" y2="441.3" stroke="#f04848" stroke-width="1"/>
<line x1="372.3" y1="442.6" x2="382.5" y2="442.6" stroke="#c00000" stroke-width="1.4"/>
<rect x="410.1" y="375.6" width="61" height="69" fill="#444444"/>
<path d="M440.6,375.6 L442.4,375.6 L442.7,393.5 L439.5,393.5 Z" fill="#d4d4d4"/>
<path d="M441.1,392.5 C436.51,391.39 433.24,391.2 428,391.2 C419.72,391.2 414.2,399.72 414.2,412.5 C414.2,428.26 429.22,439.08 436.1,441.9 C445.74,438.47 466.8,425.34 466.8,406.2 C466.8,397.56 460.28,391.8 450.5,391.8 C446.74,391.8 444.39,391.91 441.1,392.5Z" fill="url(#lf)" stroke="#e0e0e0" stroke-width="0.8"/>
<path d="M441.1,395.5 L431.65,422.5 M441.1,395.5 L449.95,416.2 M441.1,400.5 L427.1,410.5" stroke="#dedede" stroke-width="0.6" fill="none" opacity="0.8"/>
<g filter="url(#wob)">
<ellipse cx="428.6" cy="401.3" rx="5" ry="2.6" fill="url(#bC)"/>
<ellipse cx="426.1" cy="413.1" rx="3.5" ry="4" fill="url(#bB)"/>
<ellipse cx="427.4" cy="408.8" rx="1.6" ry="1.6" fill="url(#bB)"/>
<ellipse cx="448.6" cy="403.1" rx="4" ry="4" fill="url(#bY)"/>
<ellipse cx="452.4" cy="407.5" rx="3" ry="3" fill="url(#bB)"/>
<ellipse cx="446.8" cy="413.1" rx="3" ry="4" fill="url(#bB)"/>
<ellipse cx="451.8" cy="415" rx="3" ry="3" fill="url(#bC)"/>
<ellipse cx="443" cy="408" rx="1.5" ry="1.5" fill="url(#bB)"/>
<ellipse cx="440.5" cy="415" rx="1.3" ry="1.3" fill="url(#bB)"/>
</g>
<line x1="441.5" y1="391.9" x2="438.4" y2="438.8" stroke="#f04848" stroke-width="1"/>
<line x1="460.3" y1="442.6" x2="470.5" y2="442.6" stroke="#c00000" stroke-width="1.4"/>
<rect x="498.1" y="375.6" width="61.4" height="69" fill="#444444"/>
<path d="M529.3,375.6 L531.1,375.6 L532.4,386.6 L529.2,386.6 Z" fill="#d4d4d4"/>
<path d="M530.8,385.6 C526.04,383.48 522.64,383.1 517.2,383.1 C508.08,383.1 502,392.86 502,407.5 C502,428.62 518.44,439.02 531,439.4 C541.83,439 556,428.18 556,406.2 C556,393.84 549.52,385.6 539.8,385.6 C536.2,385.6 533.95,385.6 530.8,385.6Z" fill="url(#lf)" stroke="#e0e0e0" stroke-width="0.8"/>
<path d="M530.8,388.6 L520.4,417.5 M530.8,388.6 L539.4,416.2 M530.8,393.6 L516.8,403.6" stroke="#dedede" stroke-width="0.6" fill="none" opacity="0.8"/>
<g filter="url(#wob)">
<ellipse cx="519" cy="415.5" rx="4" ry="4.2" fill="url(#bB)"/>
<ellipse cx="524.5" cy="411" rx="3.2" ry="4" fill="url(#bB)"/>
<ellipse cx="527" cy="418" rx="2.2" ry="2.2" fill="url(#bB)"/>
<ellipse cx="515.5" cy="419.5" rx="3.2" ry="2.2" fill="url(#bB)"/>
<ellipse cx="510.5" cy="417.5" rx="4.2" ry="2.8" fill="url(#bC)"/>
<ellipse cx="510.4" cy="407.5" rx="1.5" ry="1.3" fill="url(#bB)"/>
<ellipse cx="522" cy="420" rx="2.5" ry="2" fill="url(#bC)"/>
<ellipse cx="529" cy="421.3" rx="1" ry="2" fill="url(#bB)"/>
<ellipse cx="542.3" cy="399.4" rx="4" ry="4" fill="url(#bB)"/>
<ellipse cx="546" cy="406.3" rx="5" ry="5" fill="url(#bY)"/>
<ellipse cx="553.5" cy="405.6" rx="3.5" ry="3.5" fill="url(#bY)"/>
<ellipse cx="549.8" cy="411.3" rx="4" ry="4" fill="url(#bG)"/>
<ellipse cx="550.4" cy="418.8" rx="3" ry="3" fill="url(#bB)"/>
<ellipse cx="544.1" cy="426.3" rx="1.4" ry="2.5" fill="url(#bB)"/>
</g>
<line x1="531.3" y1="386.9" x2="531.3" y2="436.9" stroke="#f04848" stroke-width="1"/>
<line x1="548.7" y1="442.6" x2="558.9" y2="442.6" stroke="#c00000" stroke-width="1.4"/>
<line x1="79.5" y1="384.4" x2="86.2" y2="384.6" stroke="#111" stroke-width="1.1"/>
<line x1="86.2" y1="384.4" x2="86.4" y2="387.5" stroke="#111" stroke-width="0.8"/>
<polyline points="533.5,382.6 533.5,381 538.5,381 538.5,383" fill="none" stroke="#111" stroke-width="0.8"/>
<line x1="410.5" y1="396.3" x2="413.5" y2="396.3" stroke="#111" stroke-width="0.9"/>
<rect x="572" y="376.6" width="8.1" height="67.4" fill="url(#cbar)"/>
<text x="571.3" y="373.4" font-size="7.2" font-weight="bold" stroke="#000" stroke-width="0.25">High</text>
<text x="571.3" y="452.3" font-size="7.2" font-weight="bold" stroke="#000" stroke-width="0.25">Low</text>
<text x="69.8" y="451.4" font-size="7" font-weight="bold" font-style="italic" text-anchor="end" stroke="#000" stroke-width="0.25" transform="rotate(-33 69.8 451.4)">DoF3H1-P1+</text>
<text x="75" y="457.8" font-size="7" font-weight="bold" font-style="italic" text-anchor="end" stroke="#000" stroke-width="0.25" transform="rotate(-33 75 457.8)">pGreenII-62sk</text>
<text x="104.8" y="451.4" font-size="7" font-weight="bold" font-style="italic" text-anchor="end" stroke="#000" stroke-width="0.25" transform="rotate(-33 104.8 451.4)">DoF3H1-P1+</text>
<text x="110" y="457.8" font-size="7" font-weight="bold" font-style="italic" text-anchor="end" stroke="#000" stroke-width="0.25" transform="rotate(-33 110 457.8)">pGreenII-DoHY5-62sk</text>
<text x="160.8" y="451.4" font-size="7" font-weight="bold" font-style="italic" text-anchor="end" stroke="#000" stroke-width="0.25" transform="rotate(-33 160.8 451.4)">DoF3H1-P2+</text>
<text x="166" y="457.8" font-size="7" font-weight="bold" font-style="italic" text-anchor="end" stroke="#000" stroke-width="0.25" transform="rotate(-33 166 457.8)">pGreenII-62SK</text>
<text x="194.8" y="451.4" font-size="7" font-weight="bold" font-style="italic" text-anchor="end" stroke="#000" stroke-width="0.25" transform="rotate(-33 194.8 451.4)">DoF3H1-P2+</text>
<text x="200" y="457.8" font-size="7" font-weight="bold" font-style="italic" text-anchor="end" stroke="#000" stroke-width="0.25" transform="rotate(-33 200 457.8)">pGreenII-DoHY5-62SK</text>
<text x="251.8" y="451.4" font-size="7" font-weight="bold" font-style="italic" text-anchor="end" stroke="#000" stroke-width="0.25" transform="rotate(-33 251.8 451.4)">DoGMPP2-P1+</text>
<text x="257" y="457.8" font-size="7" font-weight="bold" font-style="italic" text-anchor="end" stroke="#000" stroke-width="0.25" transform="rotate(-33 257 457.8)">pGreenII-62SK</text>
<text x="284.8" y="451.4" font-size="7" font-weight="bold" font-style="italic" text-anchor="end" stroke="#000" stroke-width="0.25" transform="rotate(-33 284.8 451.4)">DoGMPP2-P1+</text>
<text x="290" y="457.8" font-size="7" font-weight="bold" font-style="italic" text-anchor="end" stroke="#000" stroke-width="0.25" transform="rotate(-33 290 457.8)">pGreenII-DoHY5-62SK</text>
<text x="338.8" y="451.4" font-size="7" font-weight="bold" font-style="italic" text-anchor="end" stroke="#000" stroke-width="0.25" transform="rotate(-33 338.8 451.4)">DoGMPP2-P2+</text>
<text x="344" y="457.8" font-size="7" font-weight="bold" font-style="italic" text-anchor="end" stroke="#000" stroke-width="0.25" transform="rotate(-33 344 457.8)">pGreenII-62SK</text>
<text x="372.8" y="451.4" font-size="7" font-weight="bold" font-style="italic" text-anchor="end" stroke="#000" stroke-width="0.25" transform="rotate(-33 372.8 451.4)">DoGMPP2-P2+</text>
<text x="378" y="457.8" font-size="7" font-weight="bold" font-style="italic" text-anchor="end" stroke="#000" stroke-width="0.25" transform="rotate(-33 378 457.8)">pGreenII-DoHY5-62SK</text>
<text x="426.4" y="451.4" font-size="7" font-weight="bold" font-style="italic" text-anchor="end" stroke="#000" stroke-width="0.25" transform="rotate(-33 426.4 451.4)">DoPMT28-P1+</text>
<text x="431.6" y="457.8" font-size="7" font-weight="bold" font-style="italic" text-anchor="end" stroke="#000" stroke-width="0.25" transform="rotate(-33 431.6 457.8)">pGreenII-62SK</text>
<text x="459.8" y="451.4" font-size="7" font-weight="bold" font-style="italic" text-anchor="end" stroke="#000" stroke-width="0.25" transform="rotate(-33 459.8 451.4)">DoPMT28-P1+</text>
<text x="465" y="457.8" font-size="7" font-weight="bold" font-style="italic" text-anchor="end" stroke="#000" stroke-width="0.25" transform="rotate(-33 465 457.8)">pGreenII-DoHY5-62SK</text>
<text x="514.8" y="451.4" font-size="7" font-weight="bold" font-style="italic" text-anchor="end" stroke="#000" stroke-width="0.25" transform="rotate(-33 514.8 451.4)">DoPMT28-P2+</text>
<text x="520" y="457.8" font-size="7" font-weight="bold" font-style="italic" text-anchor="end" stroke="#000" stroke-width="0.25" transform="rotate(-33 520 457.8)">pGreenII-62SK</text>
<text x="549.4" y="451.4" font-size="7" font-weight="bold" font-style="italic" text-anchor="end" stroke="#000" stroke-width="0.25" transform="rotate(-33 549.4 451.4)">DoPMT28-P2+</text>
<text x="554.6" y="457.8" font-size="7" font-weight="bold" font-style="italic" text-anchor="end" stroke="#000" stroke-width="0.25" transform="rotate(-33 554.6 457.8)">pGreenII-DoHY5-62SK</text>
<text x="8" y="513.4" font-size="13.8" font-weight="bold" stroke="#000" stroke-width="0.25">(g)</text>
<line x1="73" y1="586.9" x2="73" y2="586.39" stroke="#8a8a8a" stroke-width="0.8"/>
<line x1="67.5" y1="586.39" x2="78.5" y2="586.39" stroke="#8a8a8a" stroke-width="0.8"/>
<rect x="63" y="586.9" width="20" height="25.4" fill="#a4a4a9"/>
<line x1="103.4" y1="547.28" x2="103.4" y2="546.26" stroke="#ff8844" stroke-width="0.8"/>
<line x1="97.9" y1="546.26" x2="108.9" y2="546.26" stroke="#ff8844" stroke-width="0.8"/>
<rect x="93.4" y="547.28" width="20" height="65.02" fill="#ff6600"/>
<line x1="53.2" y1="535.6" x2="53.2" y2="612.3" stroke="#2a2a2a" stroke-width="0.9"/>
<line x1="50.4" y1="612.3" x2="53.2" y2="612.3" stroke="#2a2a2a" stroke-width="0.9"/>
<text x="49.8" y="614.7" font-size="6.8" font-weight="bold" text-anchor="end" fill="#333" stroke="#333" stroke-width="0.25">0</text>
<line x1="50.4" y1="586.9" x2="53.2" y2="586.9" stroke="#2a2a2a" stroke-width="0.9"/>
<text x="49.8" y="589.3" font-size="6.8" font-weight="bold" text-anchor="end" fill="#333" stroke="#333" stroke-width="0.25">1.0</text>
<line x1="50.4" y1="561.5" x2="53.2" y2="561.5" stroke="#2a2a2a" stroke-width="0.9"/>
<text x="49.8" y="563.9" font-size="6.8" font-weight="bold" text-anchor="end" fill="#333" stroke="#333" stroke-width="0.25">2.0</text>
<line x1="50.4" y1="536.1" x2="53.2" y2="536.1" stroke="#2a2a2a" stroke-width="0.9"/>
<text x="49.8" y="538.5" font-size="6.8" font-weight="bold" text-anchor="end" fill="#333" stroke="#333" stroke-width="0.25">3.0</text>
<line x1="51.7" y1="599.6" x2="53.2" y2="599.6" stroke="#2a2a2a" stroke-width="0.9"/>
<line x1="51.7" y1="574.2" x2="53.2" y2="574.2" stroke="#2a2a2a" stroke-width="0.9"/>
<line x1="51.7" y1="548.8" x2="53.2" y2="548.8" stroke="#2a2a2a" stroke-width="0.9"/>
<line x1="53.2" y1="612.3" x2="123" y2="612.3" stroke="#2a2a2a" stroke-width="0.9"/>
<polyline points="74.4,544.4 74.4,540.6 104,540.6 104,544.4" fill="none" stroke="#333" stroke-width="0.8"/>
<text x="89.2" y="542.9" font-size="11.4" font-weight="bold" text-anchor="middle" fill="#222" stroke="#222" stroke-width="0.25">***</text>
<text x="37.6" y="563.3" font-size="7" font-weight="bold" text-anchor="middle" fill="#222" stroke="#222" stroke-width="0.25" transform="rotate(-90 37.6 563.3)">Relative activity of Luciferase</text>
<line x1="73" y1="612.3" x2="73" y2="614.5" stroke="#2a2a2a" stroke-width="0.8"/>
<line x1="103.4" y1="612.3" x2="103.4" y2="614.5" stroke="#2a2a2a" stroke-width="0.8"/>
<text x="74.1" y="619.7" font-size="6.8" font-weight="bold" font-style="italic" text-anchor="end" stroke="#000" stroke-width="0.25" transform="rotate(-34 74.1 619.7)">DoF3H1-P1+</text>
<text x="79.3" y="626.1" font-size="6.8" font-weight="bold" font-style="italic" text-anchor="end" stroke="#000" stroke-width="0.25" transform="rotate(-34 79.3 626.1)">pGreenII-62sk</text>
<text x="104.5" y="619.7" font-size="6.8" font-weight="bold" font-style="italic" text-anchor="end" stroke="#000" stroke-width="0.25" transform="rotate(-34 104.5 619.7)">DoF3H1-P1+</text>
<text x="109.7" y="626.1" font-size="6.8" font-weight="bold" font-style="italic" text-anchor="end" stroke="#000" stroke-width="0.25" transform="rotate(-34 109.7 626.1)">pGreenII-DoHY5-62sk</text>
<line x1="167.2" y1="593.4" x2="167.2" y2="593.02" stroke="#8a8a8a" stroke-width="0.8"/>
<line x1="161.81" y1="593.02" x2="172.59" y2="593.02" stroke="#8a8a8a" stroke-width="0.8"/>
<rect x="157.4" y="593.4" width="19.6" height="19" fill="#a4a4a9"/>
<line x1="197" y1="553.5" x2="197" y2="551.22" stroke="#ff8844" stroke-width="0.8"/>
<line x1="191.5" y1="551.22" x2="202.5" y2="551.22" stroke="#ff8844" stroke-width="0.8"/>
<rect x="187" y="553.5" width="20" height="58.9" fill="#ff6600"/>
<line x1="147" y1="535.9" x2="147" y2="612.4" stroke="#2a2a2a" stroke-width="0.9"/>
<line x1="144.2" y1="612.4" x2="147" y2="612.4" stroke="#2a2a2a" stroke-width="0.9"/>
<text x="143.6" y="614.8" font-size="6.8" font-weight="bold" text-anchor="end" fill="#333" stroke="#333" stroke-width="0.25">0</text>
<line x1="144.2" y1="593.4" x2="147" y2="593.4" stroke="#2a2a2a" stroke-width="0.9"/>
<text x="143.6" y="595.8" font-size="6.8" font-weight="bold" text-anchor="end" fill="#333" stroke="#333" stroke-width="0.25">1.0</text>
<line x1="144.2" y1="574.4" x2="147" y2="574.4" stroke="#2a2a2a" stroke-width="0.9"/>
<text x="143.6" y="576.8" font-size="6.8" font-weight="bold" text-anchor="end" fill="#333" stroke="#333" stroke-width="0.25">2.0</text>
<line x1="144.2" y1="555.4" x2="147" y2="555.4" stroke="#2a2a2a" stroke-width="0.9"/>
<text x="143.6" y="557.8" font-size="6.8" font-weight="bold" text-anchor="end" fill="#333" stroke="#333" stroke-width="0.25">3.0</text>
<line x1="144.2" y1="536.4" x2="147" y2="536.4" stroke="#2a2a2a" stroke-width="0.9"/>
<text x="143.6" y="538.8" font-size="6.8" font-weight="bold" text-anchor="end" fill="#333" stroke="#333" stroke-width="0.25">4.0</text>
<line x1="145.5" y1="602.9" x2="147" y2="602.9" stroke="#2a2a2a" stroke-width="0.9"/>
<line x1="145.5" y1="583.9" x2="147" y2="583.9" stroke="#2a2a2a" stroke-width="0.9"/>
<line x1="145.5" y1="564.9" x2="147" y2="564.9" stroke="#2a2a2a" stroke-width="0.9"/>
<line x1="145.5" y1="545.9" x2="147" y2="545.9" stroke="#2a2a2a" stroke-width="0.9"/>
<line x1="147" y1="612.4" x2="216" y2="612.4" stroke="#2a2a2a" stroke-width="0.9"/>
<polyline points="166.6,548.4 166.6,545.2 197.4,545.2 197.4,548.4" fill="none" stroke="#333" stroke-width="0.8"/>
<text x="182" y="548" font-size="11.4" font-weight="bold" text-anchor="middle" fill="#222" stroke="#222" stroke-width="0.25">***</text>
<text x="131.6" y="563.3" font-size="7" font-weight="bold" text-anchor="middle" fill="#222" stroke="#222" stroke-width="0.25" transform="rotate(-90 131.6 563.3)">Relative activity of Luciferase</text>
<line x1="167.2" y1="612.4" x2="167.2" y2="614.6" stroke="#2a2a2a" stroke-width="0.8"/>
<line x1="197" y1="612.4" x2="197" y2="614.6" stroke="#2a2a2a" stroke-width="0.8"/>
<text x="168.3" y="619.7" font-size="6.8" font-weight="bold" font-style="italic" text-anchor="end" stroke="#000" stroke-width="0.25" transform="rotate(-34 168.3 619.7)">DoF3H1-P2+</text>
<text x="173.5" y="626.1" font-size="6.8" font-weight="bold" font-style="italic" text-anchor="end" stroke="#000" stroke-width="0.25" transform="rotate(-34 173.5 626.1)">pGreenII-62SK</text>
<text x="198.1" y="619.7" font-size="6.8" font-weight="bold" font-style="italic" text-anchor="end" stroke="#000" stroke-width="0.25" transform="rotate(-34 198.1 619.7)">DoF3H1-P2+</text>
<text x="203.3" y="626.1" font-size="6.8" font-weight="bold" font-style="italic" text-anchor="end" stroke="#000" stroke-width="0.25" transform="rotate(-34 203.3 626.1)">pGreenII-DoHY5-62SK</text>
<line x1="259.3" y1="586.3" x2="259.3" y2="586.05" stroke="#8a8a8a" stroke-width="0.8"/>
<line x1="254.19" y1="586.05" x2="264.42" y2="586.05" stroke="#8a8a8a" stroke-width="0.8"/>
<rect x="250" y="586.3" width="18.6" height="25.1" fill="#a4a4a9"/>
<line x1="288.5" y1="552.16" x2="288.5" y2="550.16" stroke="#ff8844" stroke-width="0.8"/>
<line x1="283.27" y1="550.16" x2="293.73" y2="550.16" stroke="#ff8844" stroke-width="0.8"/>
<rect x="279" y="552.16" width="19" height="59.24" fill="#ff6600"/>
<line x1="240" y1="535.6" x2="240" y2="611.4" stroke="#2a2a2a" stroke-width="0.9"/>
<line x1="237.2" y1="611.4" x2="240" y2="611.4" stroke="#2a2a2a" stroke-width="0.9"/>
<text x="236.6" y="613.8" font-size="6.8" font-weight="bold" text-anchor="end" fill="#333" stroke="#333" stroke-width="0.25">0</text>
<line x1="237.2" y1="586.3" x2="240" y2="586.3" stroke="#2a2a2a" stroke-width="0.9"/>
<text x="236.6" y="588.7" font-size="6.8" font-weight="bold" text-anchor="end" fill="#333" stroke="#333" stroke-width="0.25">1.0</text>
<line x1="237.2" y1="561.2" x2="240" y2="561.2" stroke="#2a2a2a" stroke-width="0.9"/>
<text x="236.6" y="563.6" font-size="6.8" font-weight="bold" text-anchor="end" fill="#333" stroke="#333" stroke-width="0.25">2.0</text>
<line x1="237.2" y1="536.1" x2="240" y2="536.1" stroke="#2a2a2a" stroke-width="0.9"/>
<text x="236.6" y="538.5" font-size="6.8" font-weight="bold" text-anchor="end" fill="#333" stroke="#333" stroke-width="0.25">3.0</text>
<line x1="238.5" y1="598.85" x2="240" y2="598.85" stroke="#2a2a2a" stroke-width="0.9"/>
<line x1="238.5" y1="573.75" x2="240" y2="573.75" stroke="#2a2a2a" stroke-width="0.9"/>
<line x1="238.5" y1="548.65" x2="240" y2="548.65" stroke="#2a2a2a" stroke-width="0.9"/>
<line x1="240" y1="611.4" x2="306" y2="611.4" stroke="#2a2a2a" stroke-width="0.9"/>
<polyline points="259.6,546.4 259.6,543 288,543 288,546.4" fill="none" stroke="#333" stroke-width="0.8"/>
<text x="273.8" y="546.4" font-size="11.4" font-weight="bold" text-anchor="middle" fill="#222" stroke="#222" stroke-width="0.25">***</text>
<text x="225" y="563.3" font-size="7" font-weight="bold" text-anchor="middle" fill="#222" stroke="#222" stroke-width="0.25" transform="rotate(-90 225 563.3)">Relative activity of Luciferase</text>
<line x1="259.3" y1="611.4" x2="259.3" y2="613.6" stroke="#2a2a2a" stroke-width="0.8"/>
<line x1="288.5" y1="611.4" x2="288.5" y2="613.6" stroke="#2a2a2a" stroke-width="0.8"/>
<text x="260.4" y="619.7" font-size="6.8" font-weight="bold" font-style="italic" text-anchor="end" stroke="#000" stroke-width="0.25" transform="rotate(-34 260.4 619.7)">DoGMPP2-P1+</text>
<text x="265.6" y="626.1" font-size="6.8" font-weight="bold" font-style="italic" text-anchor="end" stroke="#000" stroke-width="0.25" transform="rotate(-34 265.6 626.1)">pGreenII-62SK</text>
<text x="289.6" y="619.7" font-size="6.8" font-weight="bold" font-style="italic" text-anchor="end" stroke="#000" stroke-width="0.25" transform="rotate(-34 289.6 619.7)">DoGMPP2-P1+</text>
<text x="294.8" y="626.1" font-size="6.8" font-weight="bold" font-style="italic" text-anchor="end" stroke="#000" stroke-width="0.25" transform="rotate(-34 294.8 626.1)">pGreenII-DoHY5-62SK</text>
<rect x="341" y="581.24" width="19" height="30.16" fill="#a4a4a9"/>
<line x1="379.8" y1="546.86" x2="379.8" y2="542.03" stroke="#ff8844" stroke-width="0.8"/>
<line x1="374.41" y1="542.03" x2="385.19" y2="542.03" stroke="#ff8844" stroke-width="0.8"/>
<rect x="370" y="546.86" width="19.6" height="64.54" fill="#ff6600"/>
<line x1="331" y1="535.5" x2="331" y2="611.4" stroke="#2a2a2a" stroke-width="0.9"/>
<line x1="328.2" y1="611.4" x2="331" y2="611.4" stroke="#2a2a2a" stroke-width="0.9"/>
<text x="327.6" y="613.8" font-size="6.8" font-weight="bold" text-anchor="end" fill="#333" stroke="#333" stroke-width="0.25">0</text>
<line x1="328.2" y1="596.32" x2="331" y2="596.32" stroke="#2a2a2a" stroke-width="0.9"/>
<text x="327.6" y="598.72" font-size="6.8" font-weight="bold" text-anchor="end" fill="#333" stroke="#333" stroke-width="0.25">0.5</text>
<line x1="328.2" y1="581.24" x2="331" y2="581.24" stroke="#2a2a2a" stroke-width="0.9"/>
<text x="327.6" y="583.64" font-size="6.8" font-weight="bold" text-anchor="end" fill="#333" stroke="#333" stroke-width="0.25">1.0</text>
<line x1="328.2" y1="566.16" x2="331" y2="566.16" stroke="#2a2a2a" stroke-width="0.9"/>
<text x="327.6" y="568.56" font-size="6.8" font-weight="bold" text-anchor="end" fill="#333" stroke="#333" stroke-width="0.25">1.5</text>
<line x1="328.2" y1="551.08" x2="331" y2="551.08" stroke="#2a2a2a" stroke-width="0.9"/>
<text x="327.6" y="553.48" font-size="6.8" font-weight="bold" text-anchor="end" fill="#333" stroke="#333" stroke-width="0.25">2.0</text>
<line x1="328.2" y1="536" x2="331" y2="536" stroke="#2a2a2a" stroke-width="0.9"/>
<text x="327.6" y="538.4" font-size="6.8" font-weight="bold" text-anchor="end" fill="#333" stroke="#333" stroke-width="0.25">2.5</text>
<line x1="329.5" y1="603.86" x2="331" y2="603.86" stroke="#2a2a2a" stroke-width="0.9"/>
<line x1="329.5" y1="588.78" x2="331" y2="588.78" stroke="#2a2a2a" stroke-width="0.9"/>
<line x1="329.5" y1="573.7" x2="331" y2="573.7" stroke="#2a2a2a" stroke-width="0.9"/>
<line x1="329.5" y1="558.62" x2="331" y2="558.62" stroke="#2a2a2a" stroke-width="0.9"/>
<line x1="329.5" y1="543.54" x2="331" y2="543.54" stroke="#2a2a2a" stroke-width="0.9"/>
<line x1="331" y1="611.4" x2="400" y2="611.4" stroke="#2a2a2a" stroke-width="0.9"/>
<polyline points="350.4,539 350.4,536 380.4,536 380.4,539" fill="none" stroke="#333" stroke-width="0.8"/>
<text x="365.4" y="538.8" font-size="11.4" font-weight="bold" text-anchor="middle" fill="#222" stroke="#222" stroke-width="0.25">***</text>
<text x="315.6" y="563.3" font-size="7" font-weight="bold" text-anchor="middle" fill="#222" stroke="#222" stroke-width="0.25" transform="rotate(-90 315.6 563.3)">Relative activity of Luciferase</text>
<line x1="350.5" y1="611.4" x2="350.5" y2="613.6" stroke="#2a2a2a" stroke-width="0.8"/>
<line x1="379.8" y1="611.4" x2="379.8" y2="613.6" stroke="#2a2a2a" stroke-width="0.8"/>
<text x="351.6" y="619.7" font-size="6.8" font-weight="bold" font-style="italic" text-anchor="end" stroke="#000" stroke-width="0.25" transform="rotate(-34 351.6 619.7)">DoGMPP2-P2+</text>
<text x="356.8" y="626.1" font-size="6.8" font-weight="bold" font-style="italic" text-anchor="end" stroke="#000" stroke-width="0.25" transform="rotate(-34 356.8 626.1)">pGreenII-62SK</text>
<text x="380.9" y="619.7" font-size="6.8" font-weight="bold" font-style="italic" text-anchor="end" stroke="#000" stroke-width="0.25" transform="rotate(-34 380.9 619.7)">DoGMPP2-P2+</text>
<text x="386.1" y="626.1" font-size="6.8" font-weight="bold" font-style="italic" text-anchor="end" stroke="#000" stroke-width="0.25" transform="rotate(-34 386.1 626.1)">pGreenII-DoHY562SK</text>
<line x1="442" y1="581.24" x2="442" y2="581.09" stroke="#8a8a8a" stroke-width="0.8"/>
<line x1="436.72" y1="581.09" x2="447.28" y2="581.09" stroke="#8a8a8a" stroke-width="0.8"/>
<rect x="432.4" y="581.24" width="19.2" height="30.16" fill="#a4a4a9"/>
<line x1="471.2" y1="548.06" x2="471.2" y2="545.65" stroke="#ff8844" stroke-width="0.8"/>
<line x1="465.81" y1="545.65" x2="476.59" y2="545.65" stroke="#ff8844" stroke-width="0.8"/>
<rect x="461.4" y="548.06" width="19.6" height="63.34" fill="#ff6600"/>
<line x1="421.6" y1="535.5" x2="421.6" y2="611.4" stroke="#2a2a2a" stroke-width="0.9"/>
<line x1="418.8" y1="611.4" x2="421.6" y2="611.4" stroke="#2a2a2a" stroke-width="0.9"/>
<text x="418.2" y="613.8" font-size="6.8" font-weight="bold" text-anchor="end" fill="#333" stroke="#333" stroke-width="0.25">0</text>
<line x1="418.8" y1="596.32" x2="421.6" y2="596.32" stroke="#2a2a2a" stroke-width="0.9"/>
<text x="418.2" y="598.72" font-size="6.8" font-weight="bold" text-anchor="end" fill="#333" stroke="#333" stroke-width="0.25">0.5</text>
<line x1="418.8" y1="581.24" x2="421.6" y2="581.24" stroke="#2a2a2a" stroke-width="0.9"/>
<text x="418.2" y="583.64" font-size="6.8" font-weight="bold" text-anchor="end" fill="#333" stroke="#333" stroke-width="0.25">1.0</text>
<line x1="418.8" y1="566.16" x2="421.6" y2="566.16" stroke="#2a2a2a" stroke-width="0.9"/>
<text x="418.2" y="568.56" font-size="6.8" font-weight="bold" text-anchor="end" fill="#333" stroke="#333" stroke-width="0.25">1.5</text>
<line x1="418.8" y1="551.08" x2="421.6" y2="551.08" stroke="#2a2a2a" stroke-width="0.9"/>
<text x="418.2" y="553.48" font-size="6.8" font-weight="bold" text-anchor="end" fill="#333" stroke="#333" stroke-width="0.25">2.0</text>
<line x1="418.8" y1="536" x2="421.6" y2="536" stroke="#2a2a2a" stroke-width="0.9"/>
<text x="418.2" y="538.4" font-size="6.8" font-weight="bold" text-anchor="end" fill="#333" stroke="#333" stroke-width="0.25">2.5</text>
<line x1="420.1" y1="603.86" x2="421.6" y2="603.86" stroke="#2a2a2a" stroke-width="0.9"/>
<line x1="420.1" y1="588.78" x2="421.6" y2="588.78" stroke="#2a2a2a" stroke-width="0.9"/>
<line x1="420.1" y1="573.7" x2="421.6" y2="573.7" stroke="#2a2a2a" stroke-width="0.9"/>
<line x1="420.1" y1="558.62" x2="421.6" y2="558.62" stroke="#2a2a2a" stroke-width="0.9"/>
<line x1="420.1" y1="543.54" x2="421.6" y2="543.54" stroke="#2a2a2a" stroke-width="0.9"/>
<line x1="421.6" y1="611.4" x2="491" y2="611.4" stroke="#2a2a2a" stroke-width="0.9"/>
<polyline points="438.4,542.6 438.4,539.6 471.6,539.6 471.6,542.6" fill="none" stroke="#333" stroke-width="0.8"/>
<text x="455" y="541.8" font-size="11.4" font-weight="bold" text-anchor="middle" fill="#222" stroke="#222" stroke-width="0.25">***</text>
<text x="408.3" y="563.3" font-size="7" font-weight="bold" text-anchor="middle" fill="#222" stroke="#222" stroke-width="0.25" transform="rotate(-90 408.3 563.3)">Relative activity of Luciferase</text>
<line x1="442" y1="611.4" x2="442" y2="613.6" stroke="#2a2a2a" stroke-width="0.8"/>
<line x1="471.2" y1="611.4" x2="471.2" y2="613.6" stroke="#2a2a2a" stroke-width="0.8"/>
<text x="443.1" y="619.7" font-size="6.8" font-weight="bold" font-style="italic" text-anchor="end" stroke="#000" stroke-width="0.25" transform="rotate(-34 443.1 619.7)">DoPMT28-P1+</text>
<text x="448.3" y="626.1" font-size="6.8" font-weight="bold" font-style="italic" text-anchor="end" stroke="#000" stroke-width="0.25" transform="rotate(-34 448.3 626.1)">pGreenII-62SK</text>
<text x="472.3" y="619.7" font-size="6.8" font-weight="bold" font-style="italic" text-anchor="end" stroke="#000" stroke-width="0.25" transform="rotate(-34 472.3 619.7)">DoPMT28-P1+</text>
<text x="477.5" y="626.1" font-size="6.8" font-weight="bold" font-style="italic" text-anchor="end" stroke="#000" stroke-width="0.25" transform="rotate(-34 477.5 626.1)">pGreenII-DoHY5-62SK</text>
<line x1="533.3" y1="592.55" x2="533.3" y2="592.17" stroke="#8a8a8a" stroke-width="0.8"/>
<line x1="527.96" y1="592.17" x2="538.63" y2="592.17" stroke="#8a8a8a" stroke-width="0.8"/>
<rect x="523.6" y="592.55" width="19.4" height="18.85" fill="#a4a4a9"/>
<line x1="562.7" y1="559.56" x2="562.7" y2="556.74" stroke="#ff8844" stroke-width="0.8"/>
<line x1="557.37" y1="556.74" x2="568.04" y2="556.74" stroke="#ff8844" stroke-width="0.8"/>
<rect x="553" y="559.56" width="19.4" height="51.84" fill="#ff6600"/>
<line x1="512.6" y1="535.5" x2="512.6" y2="611.4" stroke="#2a2a2a" stroke-width="0.9"/>
<line x1="509.8" y1="611.4" x2="512.6" y2="611.4" stroke="#2a2a2a" stroke-width="0.9"/>
<text x="509.2" y="613.8" font-size="6.8" font-weight="bold" text-anchor="end" fill="#333" stroke="#333" stroke-width="0.25">0</text>
<line x1="509.8" y1="592.55" x2="512.6" y2="592.55" stroke="#2a2a2a" stroke-width="0.9"/>
<text x="509.2" y="594.95" font-size="6.8" font-weight="bold" text-anchor="end" fill="#333" stroke="#333" stroke-width="0.25">1.0</text>
<line x1="509.8" y1="573.7" x2="512.6" y2="573.7" stroke="#2a2a2a" stroke-width="0.9"/>
<text x="509.2" y="576.1" font-size="6.8" font-weight="bold" text-anchor="end" fill="#333" stroke="#333" stroke-width="0.25">2.0</text>
<line x1="509.8" y1="554.85" x2="512.6" y2="554.85" stroke="#2a2a2a" stroke-width="0.9"/>
<text x="509.2" y="557.25" font-size="6.8" font-weight="bold" text-anchor="end" fill="#333" stroke="#333" stroke-width="0.25">3.0</text>
<line x1="509.8" y1="536" x2="512.6" y2="536" stroke="#2a2a2a" stroke-width="0.9"/>
<text x="509.2" y="538.4" font-size="6.8" font-weight="bold" text-anchor="end" fill="#333" stroke="#333" stroke-width="0.25">4.0</text>
<line x1="511.1" y1="601.98" x2="512.6" y2="601.98" stroke="#2a2a2a" stroke-width="0.9"/>
<line x1="511.1" y1="583.12" x2="512.6" y2="583.12" stroke="#2a2a2a" stroke-width="0.9"/>
<line x1="511.1" y1="564.27" x2="512.6" y2="564.27" stroke="#2a2a2a" stroke-width="0.9"/>
<line x1="511.1" y1="545.42" x2="512.6" y2="545.42" stroke="#2a2a2a" stroke-width="0.9"/>
<line x1="512.6" y1="611.4" x2="582" y2="611.4" stroke="#2a2a2a" stroke-width="0.9"/>
<polyline points="536.4,554.6 536.4,551.6 563,551.6 563,554.6" fill="none" stroke="#333" stroke-width="0.8"/>
<text x="549.7" y="553.8" font-size="11.4" font-weight="bold" text-anchor="middle" fill="#222" stroke="#222" stroke-width="0.25">***</text>
<text x="497.8" y="563.3" font-size="7" font-weight="bold" text-anchor="middle" fill="#222" stroke="#222" stroke-width="0.25" transform="rotate(-90 497.8 563.3)">Relative activity of Luciferase</text>
<line x1="533.3" y1="611.4" x2="533.3" y2="613.6" stroke="#2a2a2a" stroke-width="0.8"/>
<line x1="562.7" y1="611.4" x2="562.7" y2="613.6" stroke="#2a2a2a" stroke-width="0.8"/>
<text x="534.4" y="619.7" font-size="6.8" font-weight="bold" font-style="italic" text-anchor="end" stroke="#000" stroke-width="0.25" transform="rotate(-34 534.4 619.7)">DoPMT28-P2+</text>
<text x="539.6" y="626.1" font-size="6.8" font-weight="bold" font-style="italic" text-anchor="end" stroke="#000" stroke-width="0.25" transform="rotate(-34 539.6 626.1)">pGreenII-62SK</text>
<text x="563.8" y="619.7" font-size="6.8" font-weight="bold" font-style="italic" text-anchor="end" stroke="#000" stroke-width="0.25" transform="rotate(-34 563.8 619.7)">DoPMT28-P2+</text>
<text x="569" y="626.1" font-size="6.8" font-weight="bold" font-style="italic" text-anchor="end" stroke="#000" stroke-width="0.25" transform="rotate(-34 569 626.1)">pGreenII-DoHY5-62SK</text>
<text x="8" y="687.2" font-size="13.8" font-weight="bold" stroke="#000" stroke-width="0.25">(h)</text>
<line x1="75.85" y1="732.02" x2="75.85" y2="728.1" stroke="#595959" stroke-width="1"/>
<line x1="70.42" y1="728.1" x2="81.27" y2="728.1" stroke="#595959" stroke-width="1"/>
<rect x="65" y="732.02" width="21.7" height="59.58" fill="#595959"/>
<line x1="108.1" y1="742.84" x2="108.1" y2="733.11" stroke="#ff2a2a" stroke-width="1"/>
<line x1="102.8" y1="733.11" x2="113.4" y2="733.11" stroke="#ff2a2a" stroke-width="1"/>
<rect x="97.5" y="742.84" width="21.2" height="48.76" fill="#ff0000"/>
<line x1="54.2" y1="712.7" x2="54.2" y2="791.6" stroke="#333" stroke-width="1.1"/>
<line x1="50.4" y1="791.6" x2="54.2" y2="791.6" stroke="#333" stroke-width="1.1"/>
<text x="49.7" y="794.2" font-size="7.2" font-weight="bold" text-anchor="end" fill="#222" stroke="#222" stroke-width="0.25">0</text>
<line x1="50.4" y1="775.92" x2="54.2" y2="775.92" stroke="#333" stroke-width="1.1"/>
<text x="49.7" y="778.52" font-size="7.2" font-weight="bold" text-anchor="end" fill="#222" stroke="#222" stroke-width="0.25">0.2</text>
<line x1="50.4" y1="760.24" x2="54.2" y2="760.24" stroke="#333" stroke-width="1.1"/>
<text x="49.7" y="762.84" font-size="7.2" font-weight="bold" text-anchor="end" fill="#222" stroke="#222" stroke-width="0.25">0.4</text>
<line x1="50.4" y1="744.56" x2="54.2" y2="744.56" stroke="#333" stroke-width="1.1"/>
<text x="49.7" y="747.16" font-size="7.2" font-weight="bold" text-anchor="end" fill="#222" stroke="#222" stroke-width="0.25">0.6</text>
<line x1="50.4" y1="728.88" x2="54.2" y2="728.88" stroke="#333" stroke-width="1.1"/>
<text x="49.7" y="731.48" font-size="7.2" font-weight="bold" text-anchor="end" fill="#222" stroke="#222" stroke-width="0.25">0.8</text>
<line x1="50.4" y1="713.2" x2="54.2" y2="713.2" stroke="#333" stroke-width="1.1"/>
<text x="49.7" y="715.8" font-size="7.2" font-weight="bold" text-anchor="end" fill="#222" stroke="#222" stroke-width="0.25">1.0</text>
<line x1="52.2" y1="783.76" x2="54.2" y2="783.76" stroke="#333" stroke-width="1.1"/>
<line x1="52.2" y1="768.08" x2="54.2" y2="768.08" stroke="#333" stroke-width="1.1"/>
<line x1="52.2" y1="752.4" x2="54.2" y2="752.4" stroke="#333" stroke-width="1.1"/>
<line x1="52.2" y1="736.72" x2="54.2" y2="736.72" stroke="#333" stroke-width="1.1"/>
<line x1="52.2" y1="721.04" x2="54.2" y2="721.04" stroke="#333" stroke-width="1.1"/>
<line x1="54.2" y1="791.6" x2="130" y2="791.6" stroke="#222" stroke-width="1.1"/>
<polyline points="75.8,725.5 75.8,720.5 108.3,720.5 108.3,725.5" fill="none" stroke="#222" stroke-width="1"/>
<text x="92.05" y="723" font-size="11.4" font-weight="bold" text-anchor="middle" stroke="#000" stroke-width="0.25">***</text>
<text x="38.6" y="747.7" font-size="7" font-weight="bold" text-anchor="middle" stroke="#000" stroke-width="0.25" transform="rotate(-90 38.6 747.7)">(A530-A657/FW)</text>
<line x1="75.85" y1="791.6" x2="75.85" y2="795.1" stroke="#222" stroke-width="0.9"/>
<line x1="108.1" y1="791.6" x2="108.1" y2="795.1" stroke="#222" stroke-width="0.9"/>
<text x="78.45" y="801.6" font-size="6.9" font-weight="bold" text-anchor="end" stroke="#000" stroke-width="0.25" transform="rotate(-31 78.45 801.6)">pTRV</text>
<text x="110.7" y="801.6" font-size="6.9" font-weight="bold" text-anchor="end" stroke="#000" stroke-width="0.25" transform="rotate(-31 110.7 801.6)">pTRV-<tspan font-style="italic">DoHY5</tspan></text>
<line x1="229.8" y1="731" x2="229.8" y2="727.41" stroke="#595959" stroke-width="1"/>
<line x1="224.9" y1="727.41" x2="234.7" y2="727.41" stroke="#595959" stroke-width="1"/>
<rect x="220" y="731" width="19.6" height="61.4" fill="#595959"/>
<line x1="260" y1="742.02" x2="260" y2="732.46" stroke="#ff2a2a" stroke-width="1"/>
<line x1="255" y1="732.46" x2="265" y2="732.46" stroke="#ff2a2a" stroke-width="1"/>
<rect x="250" y="742.02" width="20" height="50.38" fill="#ff0000"/>
<line x1="209" y1="710.9" x2="209" y2="792.4" stroke="#333" stroke-width="1.1"/>
<line x1="205.2" y1="792.4" x2="209" y2="792.4" stroke="#333" stroke-width="1.1"/>
<text x="204.5" y="795" font-size="7.2" font-weight="bold" text-anchor="end" fill="#222" stroke="#222" stroke-width="0.25">0</text>
<line x1="205.2" y1="776.2" x2="209" y2="776.2" stroke="#333" stroke-width="1.1"/>
<text x="204.5" y="778.8" font-size="7.2" font-weight="bold" text-anchor="end" fill="#222" stroke="#222" stroke-width="0.25">5.0</text>
<line x1="205.2" y1="760" x2="209" y2="760" stroke="#333" stroke-width="1.1"/>
<text x="204.5" y="762.6" font-size="7.2" font-weight="bold" text-anchor="end" fill="#222" stroke="#222" stroke-width="0.25">10.0</text>
<line x1="205.2" y1="743.8" x2="209" y2="743.8" stroke="#333" stroke-width="1.1"/>
<text x="204.5" y="746.4" font-size="7.2" font-weight="bold" text-anchor="end" fill="#222" stroke="#222" stroke-width="0.25">15.0</text>
<line x1="205.2" y1="727.6" x2="209" y2="727.6" stroke="#333" stroke-width="1.1"/>
<text x="204.5" y="730.2" font-size="7.2" font-weight="bold" text-anchor="end" fill="#222" stroke="#222" stroke-width="0.25">20.0</text>
<line x1="205.2" y1="711.4" x2="209" y2="711.4" stroke="#333" stroke-width="1.1"/>
<text x="204.5" y="714" font-size="7.2" font-weight="bold" text-anchor="end" fill="#222" stroke="#222" stroke-width="0.25">25.0</text>
<line x1="207" y1="784.3" x2="209" y2="784.3" stroke="#333" stroke-width="1.1"/>
<line x1="207" y1="768.1" x2="209" y2="768.1" stroke="#333" stroke-width="1.1"/>
<line x1="207" y1="751.9" x2="209" y2="751.9" stroke="#333" stroke-width="1.1"/>
<line x1="207" y1="735.7" x2="209" y2="735.7" stroke="#333" stroke-width="1.1"/>
<line x1="207" y1="719.5" x2="209" y2="719.5" stroke="#333" stroke-width="1.1"/>
<line x1="209" y1="792.4" x2="280" y2="792.4" stroke="#222" stroke-width="1.1"/>
<polyline points="229.4,724 229.4,719.4 260.6,719.4 260.6,724" fill="none" stroke="#222" stroke-width="1"/>
<text x="245" y="722" font-size="11.4" font-weight="bold" text-anchor="middle" stroke="#000" stroke-width="0.25">**</text>
<text x="189.3" y="748" font-size="7" font-weight="bold" text-anchor="middle" stroke="#000" stroke-width="0.25" transform="rotate(-90 189.3 748)">Polysaccharides content (mg/g)</text>
<line x1="229.8" y1="792.4" x2="229.8" y2="795.9" stroke="#222" stroke-width="0.9"/>
<line x1="260" y1="792.4" x2="260" y2="795.9" stroke="#222" stroke-width="0.9"/>
<text x="232.4" y="802.4" font-size="6.9" font-weight="bold" text-anchor="end" stroke="#000" stroke-width="0.25" transform="rotate(-31 232.4 802.4)">pTRV</text>
<text x="262.6" y="802.4" font-size="6.9" font-weight="bold" text-anchor="end" stroke="#000" stroke-width="0.25" transform="rotate(-31 262.6 802.4)">pTRV-<tspan font-style="italic">DoHY5</tspan></text>
<line x1="378.5" y1="727.21" x2="378.5" y2="721.53" stroke="#595959" stroke-width="1"/>
<line x1="373.25" y1="721.53" x2="383.75" y2="721.53" stroke="#595959" stroke-width="1"/>
<rect x="368" y="727.21" width="21" height="65.39" fill="#595959"/>
<line x1="410.5" y1="736.62" x2="410.5" y2="734.38" stroke="#ff2a2a" stroke-width="1"/>
<line x1="405.25" y1="734.38" x2="415.75" y2="734.38" stroke="#ff2a2a" stroke-width="1"/>
<rect x="400" y="736.62" width="21" height="55.98" fill="#ff0000"/>
<line x1="357" y1="710.1" x2="357" y2="792.6" stroke="#333" stroke-width="1.1"/>
<line x1="353.2" y1="792.6" x2="357" y2="792.6" stroke="#333" stroke-width="1.1"/>
<text x="352.5" y="795.2" font-size="7.2" font-weight="bold" text-anchor="end" fill="#222" stroke="#222" stroke-width="0.25">0</text>
<line x1="353.2" y1="765.26" x2="357" y2="765.26" stroke="#333" stroke-width="1.1"/>
<text x="352.5" y="767.87" font-size="7.2" font-weight="bold" text-anchor="end" fill="#222" stroke="#222" stroke-width="0.25">5.0</text>
<line x1="353.2" y1="737.93" x2="357" y2="737.93" stroke="#333" stroke-width="1.1"/>
<text x="352.5" y="740.53" font-size="7.2" font-weight="bold" text-anchor="end" fill="#222" stroke="#222" stroke-width="0.25">10.0</text>
<line x1="353.2" y1="710.6" x2="357" y2="710.6" stroke="#333" stroke-width="1.1"/>
<text x="352.5" y="713.2" font-size="7.2" font-weight="bold" text-anchor="end" fill="#222" stroke="#222" stroke-width="0.25">15.0</text>
<line x1="355" y1="778.93" x2="357" y2="778.93" stroke="#333" stroke-width="1.1"/>
<line x1="355" y1="751.6" x2="357" y2="751.6" stroke="#333" stroke-width="1.1"/>
<line x1="355" y1="724.26" x2="357" y2="724.26" stroke="#333" stroke-width="1.1"/>
<line x1="357" y1="792.6" x2="432" y2="792.6" stroke="#222" stroke-width="1.1"/>
<polyline points="378.4,719 378.4,714.4 410.6,714.4 410.6,719" fill="none" stroke="#222" stroke-width="1"/>
<text x="394.5" y="716.4" font-size="11.4" font-weight="bold" text-anchor="middle" stroke="#000" stroke-width="0.25">**</text>
<text x="336.6" y="748.5" font-size="7" font-weight="bold" text-anchor="middle" stroke="#000" stroke-width="0.25" transform="rotate(-90 336.6 748.5)">Mannose contents (mg/g)</text>
<line x1="378.5" y1="792.6" x2="378.5" y2="796.1" stroke="#222" stroke-width="0.9"/>
<line x1="410.5" y1="792.6" x2="410.5" y2="796.1" stroke="#222" stroke-width="0.9"/>
<text x="381.1" y="802.6" font-size="6.9" font-weight="bold" text-anchor="end" stroke="#000" stroke-width="0.25" transform="rotate(-31 381.1 802.6)">pTRV</text>
<text x="413.1" y="802.6" font-size="6.9" font-weight="bold" text-anchor="end" stroke="#000" stroke-width="0.25" transform="rotate(-31 413.1 802.6)">pTRV-<tspan font-style="italic">DoHY5</tspan></text>
<line x1="530.5" y1="734.07" x2="530.5" y2="723.42" stroke="#595959" stroke-width="1"/>
<line x1="525.25" y1="723.42" x2="535.75" y2="723.42" stroke="#595959" stroke-width="1"/>
<rect x="520" y="734.07" width="21" height="59.33" fill="#595959"/>
<line x1="562.5" y1="726.05" x2="562.5" y2="716.78" stroke="#ff2a2a" stroke-width="1"/>
<line x1="557.25" y1="716.78" x2="567.75" y2="716.78" stroke="#ff2a2a" stroke-width="1"/>
<rect x="552" y="726.05" width="21" height="67.35" fill="#ff0000"/>
<line x1="509.4" y1="709.92" x2="509.4" y2="793.4" stroke="#333" stroke-width="1.1"/>
<line x1="505.6" y1="793.4" x2="509.4" y2="793.4" stroke="#333" stroke-width="1.1"/>
<text x="504.9" y="796" font-size="7.2" font-weight="bold" text-anchor="end" fill="#222" stroke="#222" stroke-width="0.25">0</text>
<line x1="505.6" y1="765.74" x2="509.4" y2="765.74" stroke="#333" stroke-width="1.1"/>
<text x="504.9" y="768.34" font-size="7.2" font-weight="bold" text-anchor="end" fill="#222" stroke="#222" stroke-width="0.25">2.0</text>
<line x1="505.6" y1="738.08" x2="509.4" y2="738.08" stroke="#333" stroke-width="1.1"/>
<text x="504.9" y="740.68" font-size="7.2" font-weight="bold" text-anchor="end" fill="#222" stroke="#222" stroke-width="0.25">4.0</text>
<line x1="505.6" y1="710.42" x2="509.4" y2="710.42" stroke="#333" stroke-width="1.1"/>
<text x="504.9" y="713.02" font-size="7.2" font-weight="bold" text-anchor="end" fill="#222" stroke="#222" stroke-width="0.25">6.0</text>
<line x1="507.4" y1="779.57" x2="509.4" y2="779.57" stroke="#333" stroke-width="1.1"/>
<line x1="507.4" y1="751.91" x2="509.4" y2="751.91" stroke="#333" stroke-width="1.1"/>
<line x1="507.4" y1="724.25" x2="509.4" y2="724.25" stroke="#333" stroke-width="1.1"/>
<line x1="509.4" y1="793.4" x2="584" y2="793.4" stroke="#222" stroke-width="1.1"/>
<text x="485" y="752" font-size="7" font-weight="bold" text-anchor="middle" stroke="#000" stroke-width="0.25" transform="rotate(-90 485 752)">Glucose contents (mg/g)</text>
<line x1="530.5" y1="793.4" x2="530.5" y2="796.9" stroke="#222" stroke-width="0.9"/>
<line x1="562.5" y1="793.4" x2="562.5" y2="796.9" stroke="#222" stroke-width="0.9"/>
<text x="533.1" y="803.4" font-size="6.9" font-weight="bold" text-anchor="end" stroke="#000" stroke-width="0.25" transform="rotate(-31 533.1 803.4)">pTRV</text>
<text x="565.1" y="803.4" font-size="6.9" font-weight="bold" text-anchor="end" stroke="#000" stroke-width="0.25" transform="rotate(-31 565.1 803.4)">pTRV-<tspan font-style="italic">DoHY5</tspan></text>
</svg>
</body></html>
